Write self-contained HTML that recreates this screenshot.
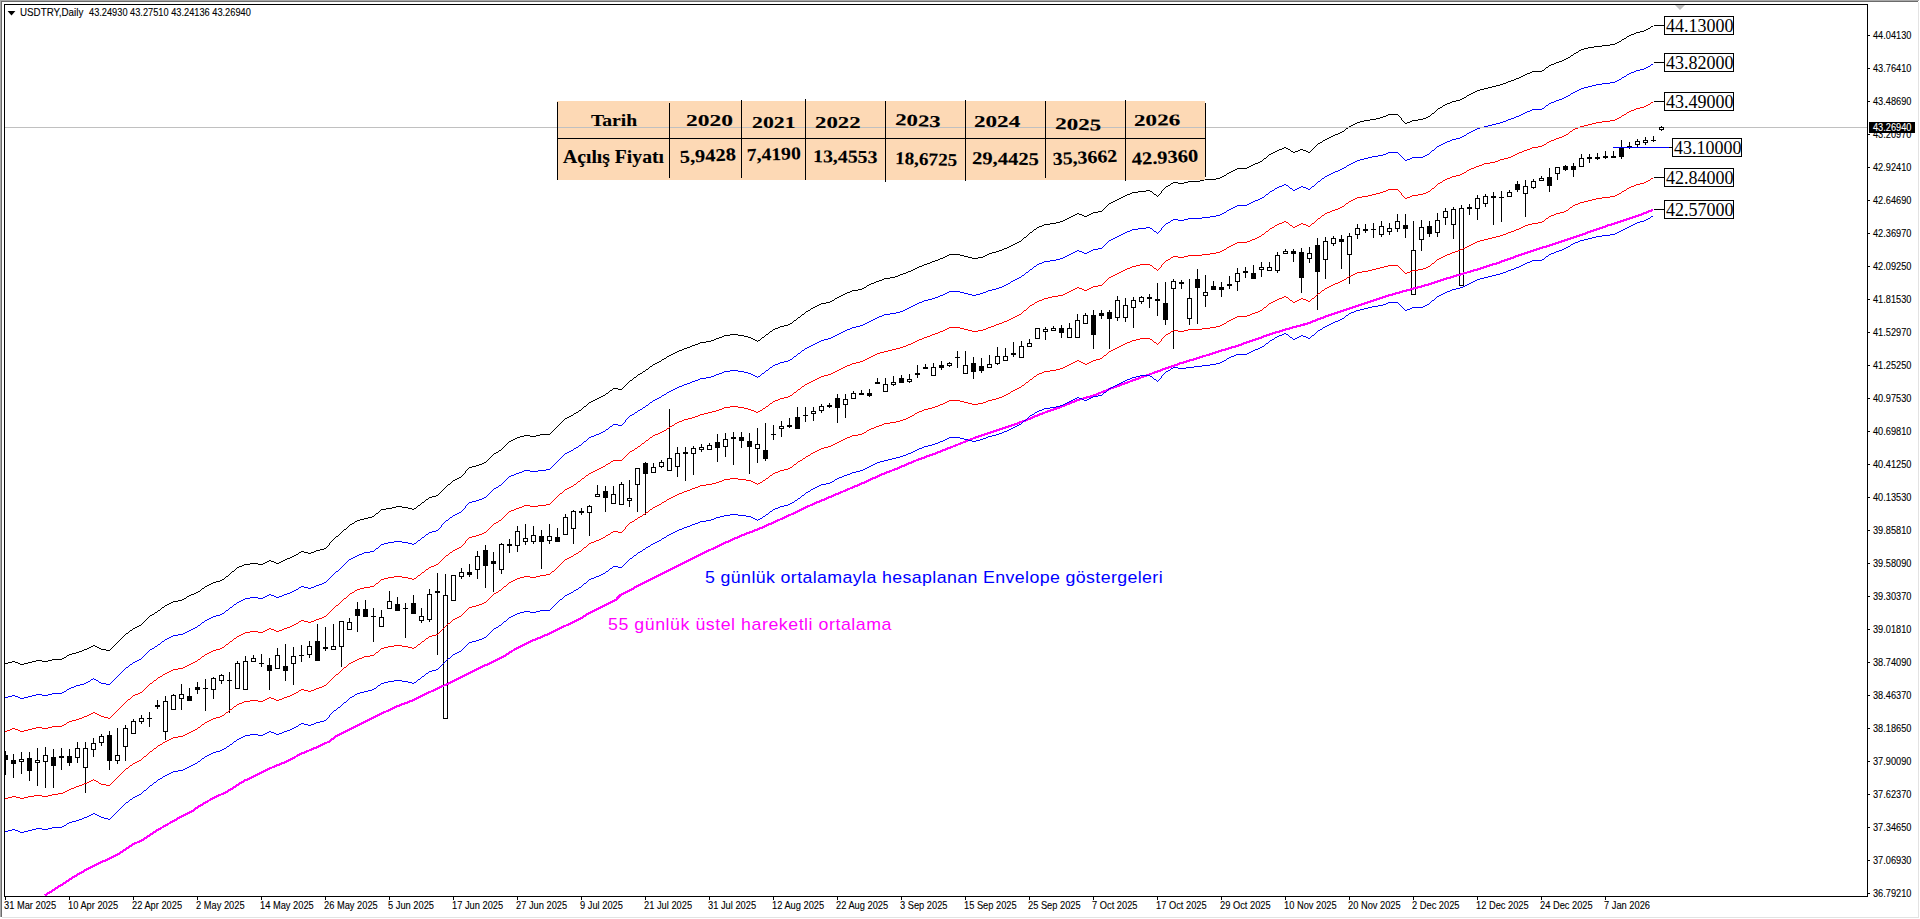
<!DOCTYPE html>
<html lang="tr">
<head>
<meta charset="utf-8">
<title>USDTRY,Daily</title>
<style>
html,body{margin:0;padding:0;background:#fff;}
body{width:1920px;height:919px;position:relative;overflow:hidden;font-family:"Liberation Sans",sans-serif;color:#000;}
svg{position:absolute;left:0;top:0;}
.t{position:absolute;white-space:pre;line-height:normal;}
.ax,.ttl,.cur{-webkit-text-stroke:0.1px currentColor;}
.ax{font-size:10.4px;transform-origin:0 0;transform:scaleX(0.8859);}
.axd{transform:scaleX(0.8944);}
.ttl{font-size:10.4px;transform-origin:0 0;transform:scaleX(1.0000);}
.ann{font-size:16.6px;transform-origin:0 0;transform:scaleX(1.07);}
.tb{font-family:"Liberation Serif",serif;font-weight:bold;-webkit-text-stroke:0.1px #000;}
.pb{position:absolute;box-sizing:border-box;width:70px;height:19px;border:1px solid #000;background:#fff;
 font-family:"Liberation Serif",serif;font-size:18px;line-height:19px;padding-left:1px;white-space:pre;letter-spacing:0.000px;}
.cur{position:absolute;left:1869px;top:122px;width:46px;height:11px;background:#000;color:#fff;font-size:10.4px;line-height:12px;padding-left:4px;box-sizing:border-box;white-space:pre;}
.cur span{display:inline-block;transform-origin:0 0;transform:scaleX(0.8859);}
#tbl{position:absolute;left:557px;top:101px;width:648px;height:79px;background:#fdd9b5;}
</style>
</head>
<body>
<!-- window frame -->
<svg width="1920" height="919" viewBox="0 0 1920 919" shape-rendering="crispEdges">
<rect x="0" y="0" width="1919" height="1" fill="#a9a9a9"/>
<rect x="1" y="1" width="1917" height="1" fill="#6b6b6b"/>
<rect x="0" y="0" width="1" height="917" fill="#a9a9a9"/>
<rect x="1" y="1" width="1" height="916" fill="#6b6b6b"/>
<rect x="1918" y="2" width="1" height="916" fill="#e3e3e3"/>
<rect x="2" y="917" width="1917" height="1" fill="#e3e3e3"/>
<polygon points="1675,5 1685,5 1680,10" fill="#c0c0c0" shape-rendering="auto"/>
</svg>
<!-- chart -->
<svg width="1920" height="919" viewBox="0 0 1920 919">
<defs><clipPath id="cp"><rect x="5" y="5" width="1862" height="891"/></clipPath></defs>
<g fill="#000" shape-rendering="crispEdges" clip-path="url(#cp)"><rect x="5" y="751" width="1" height="24"/><rect x="3" y="755" width="5" height="5"/><rect x="13" y="754" width="1" height="24"/><rect x="11" y="760" width="5" height="4"/><rect x="21" y="752" width="1" height="22"/><rect x="19" y="759" width="5" height="3"/><rect x="20" y="760" width="3" height="1" fill="#fff"/><rect x="29" y="752" width="1" height="29"/><rect x="27" y="758" width="5" height="13"/><rect x="37" y="748" width="1" height="38"/><rect x="35" y="760" width="5" height="3"/><rect x="36" y="761" width="3" height="1" fill="#fff"/><rect x="45" y="747" width="1" height="41"/><rect x="43" y="755" width="5" height="7"/><rect x="44" y="756" width="3" height="5" fill="#fff"/><rect x="53" y="749" width="1" height="39"/><rect x="51" y="757" width="5" height="9"/><rect x="61" y="748" width="1" height="22"/><rect x="59" y="756" width="5" height="2"/><rect x="69" y="749" width="1" height="17"/><rect x="67" y="756" width="5" height="7"/><rect x="77" y="742" width="1" height="21"/><rect x="75" y="748" width="5" height="10"/><rect x="76" y="749" width="3" height="8" fill="#fff"/><rect x="85" y="742" width="1" height="51"/><rect x="83" y="748" width="5" height="20"/><rect x="84" y="749" width="3" height="18" fill="#fff"/><rect x="93" y="738" width="1" height="19"/><rect x="91" y="743" width="5" height="7"/><rect x="92" y="744" width="3" height="5" fill="#fff"/><rect x="101" y="734" width="1" height="12"/><rect x="99" y="736" width="5" height="7"/><rect x="100" y="737" width="3" height="5" fill="#fff"/><rect x="109" y="731" width="1" height="39"/><rect x="107" y="735" width="5" height="26"/><rect x="117" y="728" width="1" height="36"/><rect x="115" y="755" width="5" height="6"/><rect x="116" y="756" width="3" height="4" fill="#fff"/><rect x="125" y="725" width="1" height="36"/><rect x="123" y="728" width="5" height="19"/><rect x="124" y="729" width="3" height="17" fill="#fff"/><rect x="133" y="719" width="1" height="15"/><rect x="131" y="721" width="5" height="13"/><rect x="132" y="722" width="3" height="11" fill="#fff"/><rect x="141" y="715" width="1" height="9"/><rect x="139" y="718" width="5" height="4"/><rect x="140" y="719" width="3" height="2" fill="#fff"/><rect x="149" y="712" width="1" height="15"/><rect x="147" y="718" width="5" height="1"/><rect x="157" y="700" width="1" height="9"/><rect x="155" y="705" width="5" height="2"/><rect x="165" y="696" width="1" height="44"/><rect x="163" y="701" width="5" height="31"/><rect x="164" y="702" width="3" height="29" fill="#fff"/><rect x="173" y="694" width="1" height="16"/><rect x="171" y="695" width="5" height="15"/><rect x="172" y="696" width="3" height="13" fill="#fff"/><rect x="181" y="684" width="1" height="26"/><rect x="179" y="694" width="5" height="5"/><rect x="180" y="695" width="3" height="3" fill="#fff"/><rect x="189" y="688" width="1" height="13"/><rect x="187" y="696" width="5" height="5"/><rect x="197" y="682" width="1" height="12"/><rect x="195" y="687" width="5" height="3"/><rect x="205" y="679" width="1" height="32"/><rect x="203" y="688" width="5" height="1"/><rect x="213" y="677" width="1" height="22"/><rect x="211" y="678" width="5" height="12"/><rect x="212" y="679" width="3" height="10" fill="#fff"/><rect x="221" y="674" width="1" height="10"/><rect x="219" y="675" width="5" height="6"/><rect x="220" y="676" width="3" height="4" fill="#fff"/><rect x="229" y="672" width="1" height="41"/><rect x="227" y="680" width="5" height="1"/><rect x="237" y="661" width="1" height="28"/><rect x="235" y="663" width="5" height="26"/><rect x="236" y="664" width="3" height="24" fill="#fff"/><rect x="245" y="656" width="1" height="34"/><rect x="243" y="661" width="5" height="29"/><rect x="244" y="662" width="3" height="27" fill="#fff"/><rect x="253" y="655" width="1" height="7"/><rect x="251" y="658" width="5" height="4"/><rect x="252" y="659" width="3" height="2" fill="#fff"/><rect x="261" y="654" width="1" height="13"/><rect x="259" y="663" width="5" height="1"/><rect x="269" y="658" width="1" height="32"/><rect x="267" y="665" width="5" height="6"/><rect x="277" y="648" width="1" height="21"/><rect x="275" y="655" width="5" height="14"/><rect x="276" y="656" width="3" height="12" fill="#fff"/><rect x="285" y="644" width="1" height="37"/><rect x="283" y="666" width="5" height="5"/><rect x="293" y="647" width="1" height="38"/><rect x="291" y="656" width="5" height="8"/><rect x="292" y="657" width="3" height="6" fill="#fff"/><rect x="301" y="645" width="1" height="17"/><rect x="299" y="655" width="5" height="1"/><rect x="309" y="641" width="1" height="17"/><rect x="307" y="646" width="5" height="9"/><rect x="308" y="647" width="3" height="7" fill="#fff"/><rect x="317" y="624" width="1" height="37"/><rect x="315" y="641" width="5" height="20"/><rect x="325" y="627" width="1" height="24"/><rect x="323" y="647" width="5" height="2"/><rect x="333" y="624" width="1" height="26"/><rect x="331" y="646" width="5" height="4"/><rect x="332" y="647" width="3" height="2" fill="#fff"/><rect x="341" y="621" width="1" height="46"/><rect x="339" y="621" width="5" height="26"/><rect x="340" y="622" width="3" height="24" fill="#fff"/><rect x="349" y="618" width="1" height="12"/><rect x="347" y="622" width="5" height="8"/><rect x="348" y="623" width="3" height="6" fill="#fff"/><rect x="357" y="602" width="1" height="30"/><rect x="355" y="609" width="5" height="7"/><rect x="365" y="600" width="1" height="17"/><rect x="363" y="609" width="5" height="8"/><rect x="373" y="608" width="1" height="34"/><rect x="371" y="616" width="5" height="1"/><rect x="381" y="610" width="1" height="17"/><rect x="379" y="617" width="5" height="10"/><rect x="380" y="618" width="3" height="8" fill="#fff"/><rect x="389" y="591" width="1" height="18"/><rect x="387" y="601" width="5" height="8"/><rect x="388" y="602" width="3" height="6" fill="#fff"/><rect x="397" y="597" width="1" height="14"/><rect x="395" y="604" width="5" height="7"/><rect x="405" y="603" width="1" height="35"/><rect x="403" y="608" width="5" height="1"/><rect x="413" y="595" width="1" height="19"/><rect x="411" y="603" width="5" height="11"/><rect x="421" y="608" width="1" height="15"/><rect x="419" y="616" width="5" height="5"/><rect x="420" y="617" width="3" height="3" fill="#fff"/><rect x="429" y="589" width="1" height="33"/><rect x="427" y="594" width="5" height="26"/><rect x="428" y="595" width="3" height="24" fill="#fff"/><rect x="437" y="573" width="1" height="82"/><rect x="435" y="591" width="5" height="2"/><rect x="445" y="574" width="1" height="145"/><rect x="443" y="595" width="5" height="124"/><rect x="444" y="596" width="3" height="122" fill="#fff"/><rect x="453" y="575" width="1" height="26"/><rect x="451" y="575" width="5" height="26"/><rect x="452" y="576" width="3" height="24" fill="#fff"/><rect x="461" y="568" width="1" height="11"/><rect x="459" y="572" width="5" height="5"/><rect x="460" y="573" width="3" height="3" fill="#fff"/><rect x="469" y="564" width="1" height="13"/><rect x="467" y="572" width="5" height="3"/><rect x="477" y="551" width="1" height="28"/><rect x="475" y="556" width="5" height="14"/><rect x="476" y="557" width="3" height="12" fill="#fff"/><rect x="485" y="545" width="1" height="43"/><rect x="483" y="550" width="5" height="16"/><rect x="493" y="552" width="1" height="40"/><rect x="491" y="561" width="5" height="3"/><rect x="501" y="543" width="1" height="31"/><rect x="499" y="544" width="5" height="26"/><rect x="500" y="545" width="3" height="24" fill="#fff"/><rect x="509" y="539" width="1" height="14"/><rect x="507" y="544" width="5" height="2"/><rect x="517" y="526" width="1" height="26"/><rect x="515" y="531" width="5" height="15"/><rect x="516" y="532" width="3" height="13" fill="#fff"/><rect x="525" y="524" width="1" height="21"/><rect x="523" y="538" width="5" height="4"/><rect x="524" y="539" width="3" height="2" fill="#fff"/><rect x="533" y="526" width="1" height="18"/><rect x="531" y="535" width="5" height="7"/><rect x="532" y="536" width="3" height="5" fill="#fff"/><rect x="541" y="530" width="1" height="39"/><rect x="539" y="536" width="5" height="6"/><rect x="549" y="524" width="1" height="20"/><rect x="547" y="536" width="5" height="5"/><rect x="548" y="537" width="3" height="3" fill="#fff"/><rect x="557" y="528" width="1" height="14"/><rect x="555" y="537" width="5" height="5"/><rect x="565" y="514" width="1" height="21"/><rect x="563" y="517" width="5" height="18"/><rect x="564" y="518" width="3" height="16" fill="#fff"/><rect x="573" y="510" width="1" height="34"/><rect x="571" y="511" width="5" height="18"/><rect x="572" y="512" width="3" height="16" fill="#fff"/><rect x="581" y="508" width="1" height="7"/><rect x="579" y="511" width="5" height="2"/><rect x="589" y="505" width="1" height="31"/><rect x="587" y="506" width="5" height="7"/><rect x="588" y="507" width="3" height="5" fill="#fff"/><rect x="597" y="485" width="1" height="12"/><rect x="595" y="494" width="5" height="3"/><rect x="596" y="495" width="3" height="1" fill="#fff"/><rect x="605" y="486" width="1" height="26"/><rect x="603" y="491" width="5" height="7"/><rect x="613" y="486" width="1" height="18"/><rect x="611" y="494" width="5" height="10"/><rect x="612" y="495" width="3" height="8" fill="#fff"/><rect x="621" y="482" width="1" height="23"/><rect x="619" y="484" width="5" height="21"/><rect x="620" y="485" width="3" height="19" fill="#fff"/><rect x="629" y="480" width="1" height="27"/><rect x="627" y="498" width="5" height="3"/><rect x="628" y="499" width="3" height="1" fill="#fff"/><rect x="637" y="468" width="1" height="44"/><rect x="635" y="468" width="5" height="17"/><rect x="636" y="469" width="3" height="15" fill="#fff"/><rect x="645" y="462" width="1" height="53"/><rect x="643" y="463" width="5" height="11"/><rect x="653" y="463" width="1" height="10"/><rect x="651" y="467" width="5" height="6"/><rect x="652" y="468" width="3" height="4" fill="#fff"/><rect x="661" y="460" width="1" height="8"/><rect x="659" y="462" width="5" height="5"/><rect x="660" y="463" width="3" height="3" fill="#fff"/><rect x="669" y="409" width="1" height="62"/><rect x="667" y="458" width="5" height="13"/><rect x="668" y="459" width="3" height="11" fill="#fff"/><rect x="677" y="447" width="1" height="30"/><rect x="675" y="453" width="5" height="14"/><rect x="676" y="454" width="3" height="12" fill="#fff"/><rect x="685" y="447" width="1" height="34"/><rect x="683" y="452" width="5" height="2"/><rect x="693" y="446" width="1" height="29"/><rect x="691" y="448" width="5" height="6"/><rect x="692" y="449" width="3" height="4" fill="#fff"/><rect x="701" y="444" width="1" height="8"/><rect x="699" y="447" width="5" height="3"/><rect x="700" y="448" width="3" height="1" fill="#fff"/><rect x="709" y="443" width="1" height="7"/><rect x="707" y="445" width="5" height="5"/><rect x="708" y="446" width="3" height="3" fill="#fff"/><rect x="717" y="434" width="1" height="28"/><rect x="715" y="442" width="5" height="6"/><rect x="725" y="433" width="1" height="24"/><rect x="723" y="439" width="5" height="8"/><rect x="724" y="440" width="3" height="6" fill="#fff"/><rect x="733" y="432" width="1" height="33"/><rect x="731" y="437" width="5" height="2"/><rect x="741" y="432" width="1" height="16"/><rect x="739" y="437" width="5" height="4"/><rect x="749" y="433" width="1" height="41"/><rect x="747" y="441" width="5" height="6"/><rect x="757" y="428" width="1" height="35"/><rect x="755" y="444" width="5" height="5"/><rect x="756" y="445" width="3" height="3" fill="#fff"/><rect x="765" y="423" width="1" height="38"/><rect x="763" y="450" width="5" height="9"/><rect x="773" y="425" width="1" height="15"/><rect x="771" y="434" width="5" height="1"/><rect x="781" y="421" width="1" height="16"/><rect x="779" y="426" width="5" height="3"/><rect x="780" y="427" width="3" height="1" fill="#fff"/><rect x="789" y="418" width="1" height="10"/><rect x="787" y="425" width="5" height="2"/><rect x="797" y="407" width="1" height="22"/><rect x="795" y="417" width="5" height="12"/><rect x="805" y="407" width="1" height="15"/><rect x="803" y="415" width="5" height="1"/><rect x="813" y="407" width="1" height="14"/><rect x="811" y="411" width="5" height="3"/><rect x="812" y="412" width="3" height="1" fill="#fff"/><rect x="821" y="404" width="1" height="9"/><rect x="819" y="406" width="5" height="5"/><rect x="820" y="407" width="3" height="3" fill="#fff"/><rect x="829" y="403" width="1" height="5"/><rect x="827" y="405" width="5" height="2"/><rect x="837" y="394" width="1" height="29"/><rect x="835" y="398" width="5" height="10"/><rect x="845" y="394" width="1" height="24"/><rect x="843" y="399" width="5" height="6"/><rect x="844" y="400" width="3" height="4" fill="#fff"/><rect x="853" y="391" width="1" height="8"/><rect x="851" y="393" width="5" height="6"/><rect x="852" y="394" width="3" height="4" fill="#fff"/><rect x="861" y="390" width="1" height="5"/><rect x="859" y="393" width="5" height="2"/><rect x="869" y="389" width="1" height="8"/><rect x="867" y="393" width="5" height="3"/><rect x="877" y="378" width="1" height="6"/><rect x="875" y="382" width="5" height="2"/><rect x="885" y="378" width="1" height="14"/><rect x="883" y="384" width="5" height="8"/><rect x="884" y="385" width="3" height="6" fill="#fff"/><rect x="893" y="376" width="1" height="10"/><rect x="891" y="382" width="5" height="3"/><rect x="892" y="383" width="3" height="1" fill="#fff"/><rect x="901" y="375" width="1" height="8"/><rect x="899" y="378" width="5" height="5"/><rect x="909" y="374" width="1" height="9"/><rect x="907" y="379" width="5" height="3"/><rect x="908" y="380" width="3" height="1" fill="#fff"/><rect x="917" y="365" width="1" height="13"/><rect x="915" y="373" width="5" height="2"/><rect x="925" y="364" width="1" height="5"/><rect x="923" y="367" width="5" height="2"/><rect x="933" y="363" width="1" height="13"/><rect x="931" y="367" width="5" height="9"/><rect x="932" y="368" width="3" height="7" fill="#fff"/><rect x="941" y="361" width="1" height="9"/><rect x="939" y="365" width="5" height="3"/><rect x="949" y="362" width="1" height="5"/><rect x="947" y="363" width="5" height="3"/><rect x="948" y="364" width="3" height="1" fill="#fff"/><rect x="957" y="351" width="1" height="17"/><rect x="955" y="357" width="5" height="1"/><rect x="965" y="351" width="1" height="23"/><rect x="963" y="365" width="5" height="9"/><rect x="964" y="366" width="3" height="7" fill="#fff"/><rect x="973" y="357" width="1" height="22"/><rect x="971" y="363" width="5" height="9"/><rect x="981" y="358" width="1" height="15"/><rect x="979" y="366" width="5" height="5"/><rect x="989" y="355" width="1" height="13"/><rect x="987" y="364" width="5" height="4"/><rect x="988" y="365" width="3" height="2" fill="#fff"/><rect x="997" y="347" width="1" height="18"/><rect x="995" y="356" width="5" height="8"/><rect x="996" y="357" width="3" height="6" fill="#fff"/><rect x="1005" y="348" width="1" height="13"/><rect x="1003" y="356" width="5" height="5"/><rect x="1004" y="357" width="3" height="3" fill="#fff"/><rect x="1013" y="342" width="1" height="15"/><rect x="1011" y="353" width="5" height="2"/><rect x="1021" y="341" width="1" height="17"/><rect x="1019" y="346" width="5" height="12"/><rect x="1020" y="347" width="3" height="10" fill="#fff"/><rect x="1029" y="339" width="1" height="8"/><rect x="1027" y="343" width="5" height="4"/><rect x="1028" y="344" width="3" height="2" fill="#fff"/><rect x="1037" y="328" width="1" height="11"/><rect x="1035" y="328" width="5" height="11"/><rect x="1036" y="329" width="3" height="9" fill="#fff"/><rect x="1045" y="327" width="1" height="13"/><rect x="1043" y="329" width="5" height="3"/><rect x="1044" y="330" width="3" height="1" fill="#fff"/><rect x="1053" y="326" width="1" height="5"/><rect x="1051" y="328" width="5" height="3"/><rect x="1052" y="329" width="3" height="1" fill="#fff"/><rect x="1061" y="325" width="1" height="13"/><rect x="1059" y="328" width="5" height="5"/><rect x="1069" y="323" width="1" height="15"/><rect x="1067" y="328" width="5" height="10"/><rect x="1068" y="329" width="3" height="8" fill="#fff"/><rect x="1077" y="314" width="1" height="24"/><rect x="1075" y="320" width="5" height="18"/><rect x="1076" y="321" width="3" height="16" fill="#fff"/><rect x="1085" y="313" width="1" height="11"/><rect x="1083" y="315" width="5" height="9"/><rect x="1084" y="316" width="3" height="7" fill="#fff"/><rect x="1093" y="310" width="1" height="39"/><rect x="1091" y="315" width="5" height="20"/><rect x="1101" y="310" width="1" height="9"/><rect x="1099" y="313" width="5" height="3"/><rect x="1109" y="310" width="1" height="39"/><rect x="1107" y="312" width="5" height="7"/><rect x="1117" y="296" width="1" height="25"/><rect x="1115" y="300" width="5" height="18"/><rect x="1116" y="301" width="3" height="16" fill="#fff"/><rect x="1125" y="298" width="1" height="24"/><rect x="1123" y="305" width="5" height="13"/><rect x="1124" y="306" width="3" height="11" fill="#fff"/><rect x="1133" y="297" width="1" height="31"/><rect x="1131" y="300" width="5" height="8"/><rect x="1132" y="301" width="3" height="6" fill="#fff"/><rect x="1141" y="296" width="1" height="8"/><rect x="1139" y="297" width="5" height="5"/><rect x="1140" y="298" width="3" height="3" fill="#fff"/><rect x="1149" y="294" width="1" height="14"/><rect x="1147" y="297" width="5" height="2"/><rect x="1157" y="283" width="1" height="33"/><rect x="1155" y="299" width="5" height="2"/><rect x="1165" y="282" width="1" height="43"/><rect x="1163" y="303" width="5" height="17"/><rect x="1173" y="279" width="1" height="70"/><rect x="1171" y="281" width="5" height="8"/><rect x="1172" y="282" width="3" height="6" fill="#fff"/><rect x="1181" y="280" width="1" height="9"/><rect x="1179" y="282" width="5" height="2"/><rect x="1189" y="279" width="1" height="46"/><rect x="1187" y="298" width="5" height="21"/><rect x="1188" y="299" width="3" height="19" fill="#fff"/><rect x="1197" y="269" width="1" height="55"/><rect x="1195" y="279" width="5" height="9"/><rect x="1205" y="275" width="1" height="32"/><rect x="1203" y="292" width="5" height="4"/><rect x="1204" y="293" width="3" height="2" fill="#fff"/><rect x="1213" y="281" width="1" height="9"/><rect x="1211" y="286" width="5" height="4"/><rect x="1221" y="282" width="1" height="15"/><rect x="1219" y="287" width="5" height="3"/><rect x="1229" y="276" width="1" height="13"/><rect x="1227" y="284" width="5" height="2"/><rect x="1237" y="268" width="1" height="23"/><rect x="1235" y="273" width="5" height="9"/><rect x="1236" y="274" width="3" height="7" fill="#fff"/><rect x="1245" y="267" width="1" height="11"/><rect x="1243" y="271" width="5" height="2"/><rect x="1253" y="265" width="1" height="14"/><rect x="1251" y="273" width="5" height="6"/><rect x="1261" y="262" width="1" height="15"/><rect x="1259" y="267" width="5" height="3"/><rect x="1260" y="268" width="3" height="1" fill="#fff"/><rect x="1269" y="262" width="1" height="9"/><rect x="1267" y="267" width="5" height="4"/><rect x="1268" y="268" width="3" height="2" fill="#fff"/><rect x="1277" y="252" width="1" height="21"/><rect x="1275" y="255" width="5" height="16"/><rect x="1276" y="256" width="3" height="14" fill="#fff"/><rect x="1285" y="249" width="1" height="5"/><rect x="1283" y="251" width="5" height="3"/><rect x="1284" y="252" width="3" height="1" fill="#fff"/><rect x="1293" y="249" width="1" height="13"/><rect x="1291" y="251" width="5" height="3"/><rect x="1301" y="248" width="1" height="45"/><rect x="1299" y="252" width="5" height="26"/><rect x="1309" y="247" width="1" height="16"/><rect x="1307" y="253" width="5" height="6"/><rect x="1308" y="254" width="3" height="4" fill="#fff"/><rect x="1317" y="238" width="1" height="72"/><rect x="1315" y="245" width="5" height="27"/><rect x="1325" y="237" width="1" height="42"/><rect x="1323" y="241" width="5" height="19"/><rect x="1324" y="242" width="3" height="17" fill="#fff"/><rect x="1333" y="236" width="1" height="10"/><rect x="1331" y="238" width="5" height="6"/><rect x="1332" y="239" width="3" height="4" fill="#fff"/><rect x="1341" y="235" width="1" height="34"/><rect x="1339" y="239" width="5" height="3"/><rect x="1349" y="233" width="1" height="51"/><rect x="1347" y="236" width="5" height="19"/><rect x="1348" y="237" width="3" height="17" fill="#fff"/><rect x="1357" y="224" width="1" height="15"/><rect x="1355" y="228" width="5" height="7"/><rect x="1356" y="229" width="3" height="5" fill="#fff"/><rect x="1365" y="224" width="1" height="9"/><rect x="1363" y="229" width="5" height="2"/><rect x="1373" y="223" width="1" height="15"/><rect x="1371" y="229" width="5" height="1"/><rect x="1381" y="221" width="1" height="16"/><rect x="1379" y="226" width="5" height="9"/><rect x="1380" y="227" width="3" height="7" fill="#fff"/><rect x="1389" y="223" width="1" height="12"/><rect x="1387" y="228" width="5" height="4"/><rect x="1388" y="229" width="3" height="2" fill="#fff"/><rect x="1397" y="214" width="1" height="18"/><rect x="1395" y="221" width="5" height="8"/><rect x="1396" y="222" width="3" height="6" fill="#fff"/><rect x="1405" y="214" width="1" height="24"/><rect x="1403" y="225" width="5" height="4"/><rect x="1413" y="221" width="1" height="74"/><rect x="1411" y="250" width="5" height="45"/><rect x="1412" y="251" width="3" height="43" fill="#fff"/><rect x="1421" y="220" width="1" height="31"/><rect x="1419" y="227" width="5" height="13"/><rect x="1420" y="228" width="3" height="11" fill="#fff"/><rect x="1429" y="221" width="1" height="16"/><rect x="1427" y="226" width="5" height="8"/><rect x="1437" y="213" width="1" height="24"/><rect x="1435" y="220" width="5" height="13"/><rect x="1436" y="221" width="3" height="11" fill="#fff"/><rect x="1445" y="208" width="1" height="17"/><rect x="1443" y="211" width="5" height="7"/><rect x="1444" y="212" width="3" height="5" fill="#fff"/><rect x="1453" y="207" width="1" height="32"/><rect x="1451" y="209" width="5" height="16"/><rect x="1452" y="210" width="3" height="14" fill="#fff"/><rect x="1461" y="205" width="1" height="81"/><rect x="1459" y="208" width="5" height="78"/><rect x="1460" y="209" width="3" height="76" fill="#fff"/><rect x="1469" y="204" width="1" height="11"/><rect x="1467" y="207" width="5" height="2"/><rect x="1477" y="195" width="1" height="25"/><rect x="1475" y="198" width="5" height="11"/><rect x="1476" y="199" width="3" height="9" fill="#fff"/><rect x="1485" y="194" width="1" height="13"/><rect x="1483" y="196" width="5" height="8"/><rect x="1484" y="197" width="3" height="6" fill="#fff"/><rect x="1493" y="192" width="1" height="33"/><rect x="1491" y="196" width="5" height="2"/><rect x="1501" y="191" width="1" height="31"/><rect x="1499" y="197" width="5" height="1"/><rect x="1509" y="190" width="1" height="7"/><rect x="1507" y="192" width="5" height="5"/><rect x="1508" y="193" width="3" height="3" fill="#fff"/><rect x="1517" y="181" width="1" height="11"/><rect x="1515" y="184" width="5" height="6"/><rect x="1525" y="180" width="1" height="37"/><rect x="1523" y="186" width="5" height="8"/><rect x="1524" y="187" width="3" height="6" fill="#fff"/><rect x="1533" y="179" width="1" height="10"/><rect x="1531" y="181" width="5" height="7"/><rect x="1532" y="182" width="3" height="5" fill="#fff"/><rect x="1541" y="176" width="1" height="5"/><rect x="1539" y="178" width="5" height="3"/><rect x="1540" y="179" width="3" height="1" fill="#fff"/><rect x="1549" y="168" width="1" height="24"/><rect x="1547" y="177" width="5" height="9"/><rect x="1557" y="167" width="1" height="13"/><rect x="1555" y="167" width="5" height="7"/><rect x="1556" y="168" width="3" height="5" fill="#fff"/><rect x="1565" y="165" width="1" height="6"/><rect x="1563" y="166" width="5" height="4"/><rect x="1573" y="163" width="1" height="14"/><rect x="1571" y="166" width="5" height="4"/><rect x="1581" y="154" width="1" height="13"/><rect x="1579" y="158" width="5" height="9"/><rect x="1580" y="159" width="3" height="7" fill="#fff"/><rect x="1589" y="154" width="1" height="9"/><rect x="1587" y="157" width="5" height="2"/><rect x="1597" y="153" width="1" height="7"/><rect x="1595" y="157" width="5" height="2"/><rect x="1605" y="151" width="1" height="8"/><rect x="1603" y="156" width="5" height="2"/><rect x="1613" y="151" width="1" height="7"/><rect x="1611" y="156" width="5" height="2"/><rect x="1621" y="140" width="1" height="19"/><rect x="1619" y="147" width="5" height="10"/><rect x="1629" y="142" width="1" height="7"/><rect x="1627" y="146" width="5" height="1"/><rect x="1637" y="139" width="1" height="8"/><rect x="1635" y="141" width="5" height="4"/><rect x="1636" y="142" width="3" height="2" fill="#fff"/><rect x="1645" y="137" width="1" height="8"/><rect x="1643" y="140" width="5" height="3"/><rect x="1644" y="141" width="3" height="1" fill="#fff"/><rect x="1653" y="136" width="1" height="6"/><rect x="1651" y="140" width="5" height="1"/><rect x="1661" y="126" width="1" height="5"/><rect x="1659" y="127" width="5" height="3"/><rect x="1660" y="128" width="3" height="1" fill="#fff"/></g>
<g clip-path="url(#cp)"><polyline points="44.8,895.5 64.8,882.8 77.0,874.9 92.7,866.2 106.6,859.8 118.8,854.0 132.7,844.5 143.2,839.6 155.3,831.4 165.8,825.3 179.7,817.5 191.9,811.4 197.1,807.5 212.8,798.3 226.7,791.9 244.1,780.9 258.1,774.3 272.0,767.5 285.9,761.8 301.6,753.6 315.5,747.8 329.4,741.4 337.4,735.4 354.8,726.7 372.2,718.0 389.6,709.8 398.3,705.8 414.0,700.0 424.5,694.5 445.3,684.9 459.3,677.9 476.7,669.2 494.1,661.4 504.5,656.2 511.5,651.3 528.9,642.2 546.3,634.9 563.7,626.6 581.1,618.4 588.1,613.5 598.6,608.3 616.0,599.6 620.0,595.5 637.4,586.2 654.8,577.5 672.2,568.8 689.6,560.1 707.0,551.4 724.5,543.1 741.9,535.4 759.3,528.8 776.7,521.0 794.1,513.1 811.5,504.8 828.9,497.5 846.3,490.1 863.7,482.7 881.1,474.8 898.6,467.9 916.0,460.5 937.4,452.7 954.8,445.8 972.2,438.8 989.6,432.7 1007.0,427.1 1024.5,420.9 1041.9,413.6 1059.3,407.5 1076.7,400.5 1094.1,395.3 1111.5,388.3 1128.9,381.9 1146.3,375.6 1163.7,369.2 1181.1,363.1 1198.6,357.9 1216.0,352.3 1237.4,345.8 1254.8,339.7 1272.2,333.6 1289.6,328.4 1307.0,323.7 1324.5,317.0 1341.9,311.0 1359.3,305.2 1376.7,299.3 1394.1,293.9 1411.5,289.2 1428.9,284.3 1446.3,278.7 1463.7,273.5 1481.1,268.3 1498.6,262.7 1516.0,256.5 1533.4,250.5 1546.4,246.4 1576.9,236.4 1607.4,225.7 1637.8,215.9 1653.0,209.9" fill="none" stroke="#f0f" stroke-width="2.2" stroke-linejoin="round" shape-rendering="crispEdges"/></g>
<g fill="none" stroke-width="1" shape-rendering="crispEdges">
<path stroke="#000" d="M5 663.5h3m0-1h4m0-1h3m0 1h3m0 1h2m0 1h4m0-1h4m0-1h4m0-1h4m0-1h6m0 1h6m0-1h4m0-1h10m0-1h2m0-1h2m0-1h1m0-1h2m0-1h3m0-1h4m0-1h3m0-1h3m0-1h2m0-1h3m0-1h2m0-1h2m0-1h2m0-1h2m0 1h2m0 1h2m0 1h2m0 1h5m0 1h4m0-1h1m0-1h1m0-1h1m0-1h1m0-1h1m0-1h1m0-1h1m0-1h1m0-1h1m0-1h1m0-1h1m0-1h1m0-1h1m0-1h1m0-1h1m0-1h1m0-1h2m0-1h1m0-1h1m0-1h2m0-1h1m0-1h2m0-1h2m0-1h2m0-1h2m0-1h1m0-1h1m0-1h1m0-1h1m0-1h1m0-1h1m0-1h1m0-1h1m0-1h1m0-1h2m0-1h2m0-1h1m0-1h2m0-1h1m0-1h2m0-1h1m0-1h1m0-1h2m0-1h1m0-1h2m0-1h2m0-1h2m0-1h2m0-1h5m0-1h4m0-1h2m0-1h2m0-1h1m0-1h2m0-1h2m0-1h3m0-1h2m0-1h2m0-1h2m0-1h1m0-1h1m0-1h2m0-1h1m0-1h2m0-1h2m0-1h2m0-1h2m0-1h3m0-1h4m0-1h2m0-1h2m0-1h1m0-1h1m0-1h2m0-1h1m0-1h1m0-1h1m0-1h1m0-1h2m0-1h1m0-1h1m0-1h1m0-1h2m0-1h3m0-1h2m0-1h6m0-1h8m0 1h5m0-1h2m0-1h2m0-1h2m0-1h2m0 1h3m0 1h2m0 1h3m0-1h2m0-1h2m0-1h2m0-1h2m0-1h3m0-1h2m0-1h2m0-1h2m0-1h2m0-1h1m0-1h2m0-1h3m0 1h4m0 1h3m0-1h3m0-1h2m0-1h4m0-1h4m0-1h2m0-1h1m0-1h1m0-1h1m0-2h1m-1 1h1m0-2h1m0-1h1m0-1h1m0-1h1m0-1h1m0-1h1m0-1h2m0-1h1m0-1h1m0-1h1m0-1h1m0-1h1m0-1h1m0-1h2m0-1h1m0-1h1m0-1h1m0-1h1m0-1h2m0-1h2m0-1h1m0-1h2m0-1h3m0-1h4m0-1h4m0-1h4m0-1h2m0-1h1m0-1h1m0-1h2m0-1h1m0-1h1m0-1h1m0-1h5m0-1h6m0-1h4m0-1h6m0 1h6m0 1h4m0 1h2m0-1h2m0-1h1m0-1h1m0-1h2m0-1h1m0-1h1m0-1h2m0-1h1m0-1h1m0-1h2m0-1h1m0-1h3m0-1h4m0-1h2m0-1h1m0-1h1m0-1h1m0-1h1m0-1h1m0-1h1m0-1h1m0-1h1m0-1h1m0-1h1m0-1h2m0-1h1m0-1h1m0-1h1m0-1h2m0-1h2m0-1h2m0-1h2m0-1h1m0-1h1m0-1h1m0-1h1m0-2h1m-1 1h1m0-2h1m0-1h1m0-1h1m0-1h3m0-1h4m0-1h3m0-1h3m0-1h2m0-1h2m0-1h1m0-1h1m0-1h1m0-1h1m0-1h1m0-1h1m0-1h1m0-1h1m0-1h2m0-1h2m0-1h1m0-1h2m0-1h1m0-1h1m0-1h1m0-1h1m0-1h1m0-1h1m0-1h1m0-1h1m0-1h2m0-1h2m0-1h2m0-1h2m0-1h3m0-1h4m0-1h6m0 1h6m0-1h4m0-1h10m0-1h1m0-1h1m0-1h1m0-1h1m0-1h1m0-1h1m0-1h1m0-1h1m0-1h1m0-1h1m0-1h1m0-1h1m0-1h1m0-1h1m0-1h1m0-1h2m0-1h2m0-1h2m0-1h2m0-1h1m0-1h2m0-1h2m0-1h1m0-1h2m0-1h1m0-1h1m0-1h1m0-1h2m0-1h1m0-1h1m0-1h1m0-1h2m0-1h2m0-1h2m0-1h2m0-1h2m0-1h2m0-1h2m0-1h2m0-1h1m0-1h2m0-1h1m0-1h1m0-1h2m0-1h1m0-1h5m0 1h4m0-1h1m0-1h1m0-1h1m0-1h1m0-1h1m0-1h1m0-1h1m0-1h1m0-1h2m0-1h1m0-1h1m0-1h2m0-1h1m0-1h1m0-1h2m0-1h2m0-1h1m0-1h2m0-1h1m0-1h2m0-1h1m0-1h1m0-1h2m0-1h1m0-1h2m0-1h2m0-1h2m0-1h2m0-1h1m0-1h2m0-1h2m0-1h1m0-1h2m0-1h2m0-1h2m0-1h2m0-1h2m0-1h2m0-1h3m0-1h2m0-1h3m0-1h3m0-1h2m0-1h3m0-1h3m0-1h2m0-1h6m0-1h5m0-1h3m0-1h2m0-1h3m0-1h3m0-1h2m0-1h6m0-1h8m0 1h6m0 1h4m0 1h3m0 1h2m0 1h2m0 1h2m0 1h1m0-1h2m0-1h1m0-1h1m0-1h2m0-1h1m0-1h1m0-1h2m0-1h1m0-1h1m0-1h2m0-1h1m0-1h2m0-1h3m0-1h2m0-1h4m0-1h4m0-1h2m0-1h2m0-1h1m0-1h1m0-1h2m0-1h1m0-1h1m0-1h2m0-1h1m0-1h1m0-1h2m0-1h1m0-1h1m0-1h2m0-1h2m0-1h1m0-1h2m0-1h2m0-1h2m0-1h2m0-1h2m0-1h5m0-1h4m0-1h2m0-1h2m0-1h1m0-1h2m0-1h2m0-1h2m0-1h2m0-1h2m0-1h2m0-1h3m0-1h2m0-1h6m0-1h4m0-1h2m0-1h2m0-1h1m0-1h2m0-1h2m0-1h3m0-1h2m0-1h3m0-1h3m0-1h2m0-1h6m0-1h5m0-1h3m0-1h2m0-1h3m0-1h3m0-1h2m0-1h3m0-1h2m0-1h2m0-1h2m0-1h2m0-1h3m0-1h2m0-1h3m0-1h3m0-1h2m0-1h3m0-1h3m0-1h2m0-1h3m0-1h2m0-1h2m0-1h2m0-1h11m0 1h4m0 1h4m0 1h4m0 1h6m0-1h5m0-1h2m0-1h2m0-1h2m0-1h3m0-1h4m0-1h3m0-1h3m0-1h2m0-1h3m0-1h2m0-1h2m0-1h2m0-1h2m0-1h2m0-1h2m0-1h2m0-1h1m0-1h1m0-1h1m0-1h2m0-1h1m0-1h1m0-1h1m0-1h1m0-1h2m0-1h1m0-1h1m0-1h2m0-1h1m0-1h2m0-1h3m0-1h2m0-1h6m0-1h6m0-1h4m0-1h3m0-1h2m0-1h2m0-1h2m0-1h2m0-1h2m0-1h2m0-1h2m0-1h2m0 1h3m0 1h2m0 1h3m0-1h2m0-1h2m0-1h2m0-1h5m0-1h4m0-1h1m0-1h1m0-1h1m0-1h1m0-1h1m0-1h1m0-1h1m0-1h2m0-1h2m0-1h2m0-1h2m0-1h2m0-1h2m0-1h2m0-1h2m0-1h2m0-1h3m0-1h2m0-1h6m0-1h8m0-1h4m0 1h2m0 1h1m0 1h1m0 1h2m0 1h1m0 1h1m0-1h1m0-1h1m0-1h1m0-2h1m-1 1h1m0-2h1m0-1h1m0-1h1m0-1h1m0-1h2m0-1h2m0-1h1m0-1h2m0-1h5m0 1h6m0-1h4m0-1h12m0-1h4m0-1h12m0-1h4m0-1h2m0-1h2m0-1h2m0-1h1m0-1h2m0-1h2m0-1h2m0-1h2m0-1h2m0-1h10m0-1h2m0-1h2m0-1h2m0-1h2m0-1h3m0-1h2m0-1h2m0-1h1m0-1h1m0-1h2m0-1h1m0-1h1m0-1h1m0-1h2m0-1h2m0-1h2m0-1h2m0-1h2m0-1h3m0-1h2m0-1h2m0 1h2m0 1h2m0 1h1m0 1h2m0 1h2m0-1h3m0-1h2m0-1h3m0 1h3m0 1h2m0 1h2m0-1h1m0-1h1m0-1h1m0-1h1m0-1h1m0-1h1m0-1h1m0-1h1m0-1h2m0-1h2m0-1h1m0-1h2m0-1h2m0-1h2m0-1h2m0-1h2m0-1h2m0-1h3m0-1h2m0-1h2m0-1h2m0-1h1m0-1h1m0-1h2m0-1h1m0-1h2m0-1h2m0-1h2m0-1h2m0-1h3m0-1h4m0-1h6m0-1h6m0-1h4m0-1h3m0-1h3m0-1h2m0-1h10m0 1h1m0 1h1m0 1h1m0 1h1m-1 1h1m0 1h1m0 1h1m0 1h1m0 1h2m0-1h3m0-1h2m0-1h6m0-1h5m0-1h3m0-1h2m0-1h2m0-1h1m0-1h1m0-1h2m0-1h1m0-1h1m0-1h1m0-1h1m0-1h2m0-1h2m0-1h1m0-1h2m0-1h2m0-1h3m0-1h2m0-1h4m0-1h4m0-1h2m0-1h2m0-1h2m0-1h1m0-1h2m0-1h2m0-1h2m0-1h2m0-1h2m0-1h3m0-1h4m0-1h4m0-1h4m0-1h4m0-1h4m0-1h3m0-1h3m0-1h2m0-1h3m0-1h3m0-1h2m0-1h3m0-1h2m0-1h2m0-1h2m0-1h2m0-1h3m0-1h2m0-1h10m0-1h2m0-1h1m0-1h1m0-1h2m0-1h1m0-1h2m0-1h3m0-1h2m0-1h3m0-1h3m0-1h2m0-1h2m0-1h2m0-1h2m0-1h1m0-1h2m0-1h1m0-1h2m0-1h2m0-1h1m0-1h2m0-1h3m0-1h4m0-1h6m0-1h8m0-1h8m0-1h5m0-1h2m0-1h2m0-1h2m0-1h1m0-1h2m0-1h2m0-1h1m0-1h2m0-1h2m0-1h3m0-1h2m0-1h4m0-1h4m0-1h2m0-1h2m0-1h2m0-1h1m0-1h2"/>
<path stroke="#00f" d="M5 697.5h3m0-1h4m0-1h3m0 1h3m0 1h2m0 1h4m0-1h4m0-1h4m0-1h4m0-1h6m0 1h6m0-1h4m0-1h10m0-1h2m0-1h2m0-1h1m0-1h2m0-1h2m0-1h3m0-1h2m0-1h4m0-1h4m0-1h2m0-1h2m0-1h2m0-1h1m0-1h2m0-1h1m0 1h2m0 1h2m0 1h1m0 1h2m0 1h5m0 1h4m0-1h1m0-1h1m0-1h1m0-1h1m0-1h1m0-1h1m0-1h1m0-1h1m0-1h1m0-1h1m0-1h1m0-1h1m0-1h1m0-1h1m0-1h1m0-1h1m0-1h2m0-1h1m0-1h1m0-1h2m0-1h1m0-1h2m0-1h2m0-1h2m0-1h2m0-1h1m0-1h1m0-1h1m0-1h1m0-1h1m0-1h1m0-1h1m0-1h1m0-1h1m0-1h2m0-1h2m0-1h1m0-1h2m0-1h1m0-1h2m0-1h1m0-1h1m0-1h2m0-1h1m0-1h2m0-1h2m0-1h2m0-1h2m0-1h5m0-1h5m0-1h2m0-1h2m0-1h2m0-1h2m0-1h2m0-1h2m0-1h2m0-1h1m0-1h2m0-1h1m0-1h1m0-1h2m0-1h1m0-1h2m0-1h2m0-1h2m0-1h2m0-1h3m0-1h4m0-1h2m0-1h2m0-1h1m0-1h1m0-1h2m0-1h1m0-1h1m0-1h2m0-1h1m0-1h1m0-1h2m0-1h1m0-1h2m0-1h2m0-1h2m0-1h2m0-1h5m0-1h8m0 1h5m0-1h2m0-1h2m0-1h2m0-1h2m0 1h3m0 1h2m0 1h3m0-1h3m0-1h2m0-1h3m0-1h3m0-1h2m0-1h2m0-1h2m0-1h2m0-1h1m0-1h2m0-1h3m0 1h4m0 1h3m0-1h3m0-1h2m0-1h3m0-1h3m0-1h2m0-1h2m0-1h1m0-1h1m0-1h1m0-1h1m0-1h1m0-1h1m0-1h1m0-1h1m0-1h1m0-1h1m0-1h2m0-1h1m0-1h1m0-1h1m0-1h1m0-1h1m0-1h1m0-1h1m0-1h1m0-1h1m0-1h1m0-1h1m0-1h2m0-1h2m0-1h2m0-1h2m0-1h2m0-1h3m0-1h2m0-1h6m0-1h4m0-1h1m0-1h1m0-1h2m0-1h1m0-1h1m0-1h1m0-1h3m0-1h4m0-1h6m0-1h8m0 1h6m0 1h4m0 1h2m0-1h2m0-1h1m0-1h1m0-1h2m0-1h1m0-1h1m0-1h2m0-1h1m0-1h1m0-1h2m0-1h1m0-1h3m0-1h4m0-1h2m0-1h1m0-1h1m0-1h1m0-2h1m-1 1h1m0-2h1m0-1h1m0-1h1m0-1h1m0-1h2m0-1h1m0-1h1m0-1h2m0-1h1m0-1h2m0-1h2m0-1h2m0-1h2m0-1h1m0-1h1m0-1h1m0-1h1m0-2h1m-1 1h1m0-2h1m0-1h1m0-1h1m0-1h3m0-1h4m0-1h3m0-1h3m0-1h2m0-1h2m0-1h1m0-1h1m0-1h1m0-1h1m0-1h1m0-1h1m0-1h1m0-1h1m0-1h2m0-1h2m0-1h1m0-1h2m0-1h1m0-1h1m0-1h1m0-1h1m0-1h1m0-1h1m0-1h1m0-1h1m0-1h2m0-1h3m0-1h2m0-1h3m0-1h3m0-1h2m0-1h6m0 1h8m0-1h8m0-1h4m0-1h1m0-1h1m0-1h1m0-1h1m0-1h1m0-1h1m0-1h1m0-1h1m0-1h1m0-1h1m0-1h1m0-1h1m0-1h1m0-1h1m0-1h1m0-1h2m0-1h2m0-1h2m0-1h2m0-1h1m0-1h2m0-1h2m0-1h1m0-1h2m0-1h1m0-1h1m0-1h1m0-1h2m0-1h1m0-1h1m0-1h1m0-1h2m0-1h3m0-1h2m0-1h3m0-1h2m0-1h2m0-1h2m0-1h1m0-1h2m0-1h1m0-1h1m0-1h2m0-1h1m0-1h5m0 1h4m0-1h1m0-1h1m0-1h1m0-2h1m-1 1h1m0-2h1m0-1h1m0-1h1m0-1h1m0-1h2m0-1h2m0-1h1m0-1h2m0-1h1m0-1h2m0-1h2m0-1h1m0-1h2m0-1h1m0-1h2m0-1h1m0-1h1m0-1h2m0-1h1m0-1h2m0-1h2m0-1h2m0-1h2m0-1h1m0-1h2m0-1h2m0-1h1m0-1h2m0-1h2m0-1h2m0-1h2m0-1h2m0-1h2m0-1h3m0-1h2m0-1h3m0-1h3m0-1h2m0-1h3m0-1h3m0-1h2m0-1h6m0-1h5m0-1h3m0-1h2m0-1h3m0-1h3m0-1h2m0-1h6m0-1h8m0 1h6m0 1h4m0 1h3m0 1h2m0 1h2m0 1h2m0 1h1m0-1h2m0-1h1m0-1h1m0-1h2m0-1h1m0-1h1m0-1h2m0-1h1m0-1h1m0-1h2m0-1h1m0-1h2m0-1h3m0-1h2m0-1h4m0-1h4m0-1h2m0-1h2m0-1h1m0-1h1m0-1h2m0-1h1m0-1h1m0-1h2m0-1h1m0-1h1m0-1h2m0-1h1m0-1h2m0-1h2m0-1h2m0-1h2m0-1h2m0-1h2m0-1h2m0-1h2m0-1h3m0-1h4m0-1h3m0-1h2m0-1h2m0-1h2m0-1h2m0-1h2m0-1h2m0-1h2m0-1h2m0-1h3m0-1h2m0-1h4m0-1h4m0-1h3m0-1h2m0-1h2m0-1h2m0-1h2m0-1h2m0-1h2m0-1h2m0-1h2m0-1h3m0-1h2m0-1h6m0-1h6m0-1h4m0-1h3m0-1h2m0-1h2m0-1h2m0-1h2m0-1h2m0-1h2m0-1h2m0-1h2m0-1h3m0-1h2m0-1h4m0-1h4m0-1h3m0-1h3m0-1h2m0-1h3m0-1h2m0-1h2m0-1h2m0-1h11m0 1h4m0 1h4m0 1h4m0 1h4m0-1h4m0-1h3m0-1h3m0-1h2m0-1h4m0-1h4m0-1h3m0-1h3m0-1h2m0-1h2m0-1h2m0-1h2m0-1h1m0-1h2m0-1h2m0-1h2m0-1h2m0-1h2m0-1h1m0-1h2m0-1h1m0-1h1m0-1h2m0-1h1m0-1h1m0-1h2m0-1h1m0-1h1m0-1h2m0-1h1m0-1h2m0-1h3m0-1h2m0-1h6m0-1h6m0-1h4m0-1h3m0-1h2m0-1h2m0-1h2m0-1h2m0-1h2m0-1h2m0-1h2m0-1h2m0 1h3m0 1h2m0 1h3m0-1h2m0-1h2m0-1h2m0-1h5m0-1h4m0-1h1m0-1h1m0-1h1m0-1h1m0-1h1m0-1h1m0-1h1m0-1h2m0-1h2m0-1h2m0-1h2m0-1h2m0-1h2m0-1h2m0-1h2m0-1h2m0-1h3m0-1h2m0-1h6m0-1h8m0-1h4m0 1h2m0 1h1m0 1h1m0 1h2m0 1h1m0 1h1m0-1h1m0-1h1m0-1h1m0-2h1m-1 1h1m0-2h1m0-1h1m0-1h1m0-1h1m0-1h2m0-1h2m0-1h1m0-1h2m0-1h5m0 1h6m0-1h4m0-1h14m0-1h8m0-1h6m0-1h4m0-1h2m0-1h2m0-1h2m0-1h1m0-1h2m0-1h2m0-1h2m0-1h2m0-1h2m0-1h10m0-1h2m0-1h2m0-1h2m0-1h2m0-1h3m0-1h2m0-1h2m0-1h2m0-1h1m0-1h1m0-1h2m0-1h1m0-1h1m0-1h2m0-1h2m0-1h1m0-1h2m0-1h2m0-1h3m0-1h2m0-1h2m0 1h2m0 1h1m0 1h1m0 1h2m0 1h1m0 1h2m0-1h2m0-1h2m0-1h2m0-1h2m0 1h3m0 1h2m0 1h2m0-1h1m0-1h1m0-1h2m0-1h1m0-1h1m0-1h1m0-1h1m0-1h2m0-1h1m0-1h1m0-1h2m0-1h1m0-1h2m0-1h2m0-1h2m0-1h2m0-1h2m0-1h3m0-1h2m0-1h2m0-1h2m0-1h2m0-1h1m0-1h2m0-1h2m0-1h2m0-1h2m0-1h2m0-1h3m0-1h4m0-1h4m0-1h4m0-1h6m0-1h5m0-1h3m0-1h2m0-1h10m0 1h1m0 1h1m0 1h1m0 1h1m0 1h1m0 1h1m0 1h1m0 1h2m0-1h3m0-1h2m0-1h11m0-1h2m0-1h2m0-1h2m0-1h1m0-1h1m0-1h1m0-1h2m0-1h1m0-1h1m0-1h1m0-1h2m0-1h2m0-1h2m0-1h2m0-1h2m0-1h3m0-1h2m0-1h4m0-1h4m0-1h2m0-1h2m0-1h2m0-1h1m0-1h2m0-1h2m0-1h2m0-1h2m0-1h2m0-1h3m0-1h4m0-1h4m0-1h4m0-1h4m0-1h4m0-1h3m0-1h3m0-1h2m0-1h3m0-1h3m0-1h2m0-1h3m0-1h2m0-1h2m0-1h2m0-1h2m0-1h3m0-1h2m0-1h10m0-1h2m0-1h1m0-1h1m0-1h2m0-1h1m0-1h2m0-1h3m0-1h2m0-1h3m0-1h3m0-1h2m0-1h2m0-1h2m0-1h2m0-1h1m0-1h2m0-1h2m0-1h2m0-1h2m0-1h2m0-1h3m0-1h4m0-1h4m0-1h4m0-1h6m0-1h8m0-1h5m0-1h2m0-1h2m0-1h2m0-1h1m0-1h2m0-1h2m0-1h1m0-1h2m0-1h2m0-1h3m0-1h2m0-1h4m0-1h4m0-1h2m0-1h2m0-1h2m0-1h1m0-1h2"/>
<path stroke="#f00" d="M5 731.5h2m0-1h3m0-1h2m0-1h3m0 1h3m0 1h2m0 1h4m0-1h4m0-1h4m0-1h4m0-1h6m0 1h6m0-1h4m0-1h10m0-1h2m0-1h2m0-1h1m0-1h2m0-1h3m0-1h4m0-1h3m0-1h3m0-1h2m0-1h3m0-1h2m0-1h2m0-1h2m0-1h2m0 1h2m0 1h2m0 1h2m0 1h3m0 1h4m0 1h2m0-1h1m0-1h1m0-1h1m0-1h1m0-1h1m0-1h1m0-1h1m0-1h1m0-1h1m0-1h1m0-1h1m0-1h1m0-1h1m0-1h1m0-1h1m0-1h1m0-1h1m0-1h1m0-1h2m0-1h1m0-1h1m0-1h1m0-1h2m0-1h3m0-1h2m0-1h2m0-1h1m0-1h1m0-1h1m0-1h1m0-1h1m0-1h1m0-1h1m0-1h1m0-1h2m0-1h1m0-1h1m0-1h2m0-1h1m0-1h1m0-1h2m0-1h2m0-1h1m0-1h2m0-1h2m0-1h2m0-1h2m0-1h2m0-1h5m0-1h5m0-1h2m0-1h2m0-1h2m0-1h2m0-1h2m0-1h2m0-1h2m0-1h1m0-1h2m0-1h1m0-1h1m0-1h2m0-1h1m0-1h2m0-1h2m0-1h2m0-1h2m0-1h3m0-1h4m0-1h2m0-1h2m0-1h1m0-1h1m0-1h2m0-1h1m0-1h1m0-1h2m0-1h1m0-1h1m0-1h2m0-1h1m0-1h2m0-1h2m0-1h2m0-1h2m0-1h5m0-1h8m0 1h5m0-1h2m0-1h2m0-1h2m0-1h2m0 1h3m0 1h2m0 1h3m0-1h3m0-1h2m0-1h3m0-1h3m0-1h2m0-1h2m0-1h2m0-1h2m0-1h1m0-1h2m0-1h3m0 1h4m0 1h3m0-1h3m0-1h2m0-1h3m0-1h3m0-1h2m0-1h2m0-1h1m0-1h1m0-1h1m0-1h1m0-1h1m0-1h1m0-1h1m0-1h1m0-1h1m0-1h1m0-1h2m0-1h1m0-1h1m0-1h1m0-1h1m0-1h1m0-1h1m0-1h2m0-1h1m0-1h1m0-1h1m0-1h1m0-1h2m0-1h2m0-1h1m0-1h2m0-1h3m0-1h4m0-1h6m0-1h4m0-1h1m0-1h1m0-1h2m0-1h1m0-1h1m0-1h1m0-1h3m0-1h4m0-1h6m0-1h8m0 1h6m0 1h4m0 1h2m0-1h2m0-1h1m0-1h1m0-1h2m0-1h1m0-1h1m0-1h2m0-1h1m0-1h1m0-1h2m0-1h1m0-1h2m0-1h3m0-1h2m0-1h2m0-1h1m0-1h1m0-1h1m0-1h1m0-1h1m0-1h1m0-1h1m0-1h1m0-1h2m0-1h1m0-1h1m0-1h2m0-1h1m0-1h2m0-1h2m0-1h2m0-1h2m0-1h1m0-1h1m0-1h1m0-1h1m0-2h1m-1 1h1m0-2h1m0-1h1m0-1h1m0-1h3m0-1h4m0-1h3m0-1h3m0-1h2m0-1h2m0-1h1m0-1h1m0-1h1m0-1h1m0-1h1m0-1h1m0-1h1m0-1h1m0-1h2m0-1h2m0-1h1m0-1h2m0-1h1m0-1h1m0-1h1m0-1h1m0-1h1m0-1h1m0-1h1m0-1h1m0-1h2m0-1h3m0-1h2m0-1h3m0-1h3m0-1h2m0-1h6m0 1h8m0-1h8m0-1h4m0-1h1m0-1h1m0-1h1m0-1h1m0-1h1m0-1h1m0-1h1m0-1h1m0-1h1m0-1h1m0-1h2m0-1h1m0-1h1m0-1h1m0-1h2m0-1h2m0-1h2m0-1h2m0-1h1m0-1h2m0-1h1m0-1h1m0-1h2m0-1h1m0-1h1m0-1h2m0-1h1m0-1h1m0-1h2m0-1h1m0-1h2m0-1h2m0-1h2m0-1h2m0-1h2m0-1h2m0-1h2m0-1h2m0-1h1m0-1h2m0-1h2m0-1h1m0-1h2m0-1h9m0-1h1m0-1h1m0-1h1m0-1h1m0-1h1m0-1h1m0-1h1m0-1h1m0-1h2m0-1h2m0-1h1m0-1h2m0-1h1m0-1h2m0-1h1m0-1h1m0-1h2m0-1h1m0-1h1m0-1h2m0-1h1m0-1h1m0-1h2m0-1h1m0-1h2m0-1h3m0-1h2m0-1h2m0-1h2m0-1h2m0-1h1m0-1h2m0-1h1m0-1h2m0-1h2m0-1h1m0-1h2m0-1h2m0-1h3m0-1h2m0-1h4m0-1h4m0-1h3m0-1h3m0-1h2m0-1h4m0-1h4m0-1h4m0-1h4m0-1h3m0-1h3m0-1h2m0-1h6m0-1h8m0 1h6m0 1h4m0 1h3m0 1h3m0 1h2m0 1h2m0-1h2m0-1h2m0-1h1m0-1h2m0-1h1m0-1h2m0-1h1m0-1h1m0-1h2m0-1h1m0-1h2m0-1h3m0-1h2m0-1h4m0-1h4m0-1h2m0-1h2m0-1h1m0-1h1m0-1h2m0-1h1m0-1h1m0-1h2m0-1h1m0-1h1m0-1h2m0-1h1m0-1h2m0-1h2m0-1h2m0-1h2m0-1h2m0-1h2m0-1h2m0-1h2m0-1h3m0-1h4m0-1h3m0-1h2m0-1h2m0-1h2m0-1h2m0-1h2m0-1h2m0-1h2m0-1h2m0-1h3m0-1h2m0-1h4m0-1h4m0-1h3m0-1h2m0-1h2m0-1h2m0-1h2m0-1h2m0-1h2m0-1h2m0-1h3m0-1h4m0-1h4m0-1h4m0-1h4m0-1h4m0-1h3m0-1h3m0-1h2m0-1h3m0-1h2m0-1h2m0-1h2m0-1h2m0-1h3m0-1h2m0-1h3m0-1h3m0-1h2m0-1h3m0-1h3m0-1h2m0-1h3m0-1h2m0-1h2m0-1h2m0-1h11m0 1h4m0 1h4m0 1h4m0 1h6m0-1h5m0-1h3m0-1h2m0-1h3m0-1h3m0-1h2m0-1h3m0-1h3m0-1h2m0-1h3m0-1h2m0-1h2m0-1h2m0-1h2m0-1h2m0-1h2m0-1h2m0-1h1m0-1h1m0-1h1m0-1h2m0-1h1m0-1h1m0-1h1m0-1h1m0-1h2m0-1h2m0-1h1m0-1h2m0-1h2m0-1h3m0-1h2m0-1h4m0-1h4m0-1h6m0-1h5m0-1h2m0-1h2m0-1h2m0-1h2m0-1h2m0-1h2m0-1h2m0-1h2m0 1h3m0 1h2m0 1h3m0-1h2m0-1h2m0-1h2m0-1h5m0-1h4m0-1h1m0-1h1m0-1h1m0-1h1m0-1h1m0-1h1m0-1h1m0-1h2m0-1h2m0-1h2m0-1h2m0-1h2m0-1h2m0-1h2m0-1h2m0-1h2m0-1h3m0-1h2m0-1h4m0-1h4m0-1h10m0 1h2m0 1h1m0 1h1m0 1h2m0 1h1m0 1h1m0-1h1m0-1h1m0-1h1m0-2h1m-1 1h1m0-2h1m0-1h1m0-1h1m0-1h1m0-1h2m0-1h2m0-1h1m0-1h2m0-1h5m0 1h6m0-1h4m0-1h14m0-1h8m0-1h6m0-1h4m0-1h2m0-1h2m0-1h2m0-1h1m0-1h2m0-1h2m0-1h2m0-1h2m0-1h2m0-1h10m0-1h3m0-1h2m0-1h3m0-1h2m0-1h2m0-1h2m0-1h1m0-1h2m0-1h1m0-1h1m0-1h2m0-1h1m0-1h1m0-1h2m0-1h2m0-1h1m0-1h2m0-1h2m0-1h3m0-1h2m0-1h2m0 1h2m0 1h1m0 1h1m0 1h2m0 1h1m0 1h2m0-1h2m0-1h2m0-1h2m0-1h2m0 1h3m0 1h2m0 1h2m0-1h1m0-1h1m0-1h2m0-1h1m0-1h1m0-1h1m0-1h1m0-1h2m0-1h1m0-1h1m0-1h2m0-1h1m0-1h2m0-1h3m0-1h2m0-1h3m0-1h3m0-1h2m0-1h2m0-1h2m0-1h1m0-1h1m0-1h2m0-1h1m0-1h2m0-1h2m0-1h2m0-1h2m0-1h5m0-1h6m0-1h4m0-1h4m0-1h4m0-1h3m0-1h3m0-1h2m0-1h10m0 1h1m0 1h1m0 1h1m0 1h1m-1 1h1m0 1h1m0 1h1m0 1h1m0 1h2m0-1h3m0-1h2m0-1h6m0-1h5m0-1h3m0-1h2m0-1h2m0-1h1m0-1h1m0-1h2m0-1h1m0-1h1m0-1h1m0-1h1m0-1h2m0-1h2m0-1h1m0-1h2m0-1h2m0-1h3m0-1h2m0-1h4m0-1h4m0-1h2m0-1h2m0-1h2m0-1h1m0-1h2m0-1h2m0-1h3m0-1h2m0-1h3m0-1h3m0-1h2m0-1h6m0-1h5m0-1h3m0-1h2m0-1h4m0-1h4m0-1h3m0-1h2m0-1h2m0-1h2m0-1h2m0-1h3m0-1h2m0-1h3m0-1h3m0-1h2m0-1h6m0-1h4m0-1h2m0-1h2m0-1h1m0-1h2m0-1h2m0-1h3m0-1h2m0-1h3m0-1h3m0-1h2m0-1h2m0-1h2m0-1h1m0-1h1m0-1h2m0-1h1m0-1h2m0-1h3m0-1h2m0-1h4m0-1h4m0-1h4m0-1h4m0-1h6m0-1h8m0-1h5m0-1h2m0-1h2m0-1h2m0-1h1m0-1h2m0-1h2m0-1h1m0-1h2m0-1h2m0-1h3m0-1h2m0-1h4m0-1h4m0-1h2m0-1h2m0-1h2m0-1h1m0-1h2"/>
<path stroke="#f00" d="M5 798.5h3m0-1h4m0-1h4m0 1h4m0 1h4m0-1h4m0-1h6m0-1h8m0 1h6m0-1h4m0-1h6m0-1h5m0-1h2m0-1h2m0-1h2m0-1h2m0-1h3m0-1h2m0-1h3m0-1h3m0-1h2m0-1h3m0-1h2m0-1h2m0-1h2m0-1h1m0 1h2m0 1h2m0 1h1m0 1h2m0 1h5m0 1h4m0-1h1m0-1h1m0-1h1m0-1h1m0-1h1m0-1h1m0-1h1m0-1h1m0-1h1m0-1h1m0-1h1m0-1h1m0-1h1m0-1h1m0-1h1m0-1h1m0-1h2m0-1h1m0-1h1m0-1h2m0-1h1m0-1h2m0-1h2m0-1h2m0-1h2m0-1h1m0-1h1m0-1h1m0-1h2m0-1h1m0-1h1m0-1h1m0-1h1m0-1h2m0-1h1m0-1h1m0-1h2m0-1h1m0-1h1m0-1h2m0-1h2m0-1h1m0-1h2m0-1h2m0-1h2m0-1h2m0-1h2m0-1h5m0-1h5m0-1h2m0-1h2m0-1h2m0-1h2m0-1h2m0-1h2m0-1h2m0-1h1m0-1h2m0-1h1m0-1h1m0-1h2m0-1h1m0-1h2m0-1h2m0-1h2m0-1h2m0-1h3m0-1h4m0-1h2m0-1h2m0-1h1m0-1h1m0-1h2m0-1h1m0-1h1m0-1h2m0-1h1m0-1h1m0-1h2m0-1h1m0-1h2m0-1h3m0-1h2m0-1h6m0-1h8m0 1h5m0-1h2m0-1h2m0-1h2m0-1h2m0 1h3m0 1h2m0 1h3m0-1h3m0-1h2m0-1h3m0-1h3m0-1h2m0-1h2m0-1h2m0-1h2m0-1h1m0-1h2m0-1h3m0 1h4m0 1h3m0-1h3m0-1h2m0-1h3m0-1h3m0-1h2m0-1h2m0-1h1m0-1h1m0-1h1m0-1h1m0-1h1m0-1h1m0-1h1m0-1h1m0-1h1m0-1h1m0-1h2m0-1h1m0-1h1m0-1h1m0-1h1m0-1h1m0-1h1m0-1h2m0-1h1m0-1h1m0-1h1m0-1h2m0-1h2m0-1h2m0-1h2m0-1h2m0-1h3m0-1h2m0-1h6m0-1h4m0-1h1m0-1h1m0-1h2m0-1h1m0-1h1m0-1h1m0-1h3m0-1h4m0-1h6m0-1h8m0 1h6m0 1h4m0 1h2m0-1h2m0-1h1m0-1h1m0-1h2m0-1h1m0-1h1m0-1h2m0-1h1m0-1h1m0-1h2m0-1h1m0-1h3m0-1h4m0-1h2m0-1h1m0-1h1m0-1h1m0-1h1m0-1h1m0-1h1m0-1h1m0-1h1m0-1h1m0-1h1m0-1h2m0-1h1m0-1h1m0-1h1m0-1h2m0-1h2m0-1h2m0-1h2m0-1h1m0-1h1m0-1h1m0-1h1m0-1h1m0-1h1m0-1h1m0-1h1m0-1h3m0-1h4m0-1h3m0-1h3m0-1h2m0-1h2m0-1h1m0-1h1m0-1h1m0-1h1m0-1h1m0-1h1m0-1h1m0-1h1m0-1h2m0-1h2m0-1h1m0-1h2m0-1h1m0-1h1m0-1h1m0-1h2m0-1h1m0-1h1m0-1h1m0-1h2m0-1h2m0-1h2m0-1h2m0-1h3m0-1h4m0-1h6m0 1h6m0-1h4m0-1h6m0-1h4m0-1h1m0-1h1m0-1h2m0-1h1m0-1h1m0-1h1m0-1h1m0-1h1m0-1h1m0-1h1m0-1h1m0-1h1m0-1h1m0-1h1m0-1h2m0-1h2m0-1h2m0-1h2m0-1h1m0-1h2m0-1h2m0-1h1m0-1h2m0-1h1m0-1h1m0-1h1m0-1h2m0-1h1m0-1h1m0-1h1m0-1h2m0-1h3m0-1h2m0-1h3m0-1h2m0-1h2m0-1h2m0-1h1m0-1h2m0-1h2m0-1h1m0-1h2m0-1h5m0 1h4m0-1h1m0-1h1m0-1h1m0-2h1m-1 1h1m0-2h1m0-1h1m0-1h1m0-1h1m0-1h2m0-1h2m0-1h1m0-1h2m0-1h1m0-1h2m0-1h2m0-1h1m0-1h2m0-1h1m0-1h2m0-1h1m0-1h1m0-1h2m0-1h1m0-1h2m0-1h2m0-1h2m0-1h2m0-1h1m0-1h2m0-1h2m0-1h1m0-1h2m0-1h2m0-1h2m0-1h2m0-1h2m0-1h2m0-1h3m0-1h2m0-1h3m0-1h3m0-1h2m0-1h3m0-1h3m0-1h2m0-1h6m0-1h6m0-1h4m0-1h3m0-1h3m0-1h2m0-1h6m0-1h8m0 1h8m0 1h5m0 1h2m0 1h2m0 1h2m0 1h1m0-1h2m0-1h2m0-1h1m0-1h2m0-1h1m0-1h2m0-1h1m0-1h1m0-1h2m0-1h1m0-1h2m0-1h3m0-1h2m0-1h4m0-1h4m0-1h2m0-1h2m0-1h1m0-1h1m0-1h2m0-1h1m0-1h1m0-1h2m0-1h2m0-1h1m0-1h2m0-1h1m0-1h2m0-1h2m0-1h1m0-1h2m0-1h2m0-1h2m0-1h2m0-1h2m0-1h3m0-1h4m0-1h3m0-1h2m0-1h2m0-1h2m0-1h2m0-1h2m0-1h2m0-1h2m0-1h2m0-1h3m0-1h2m0-1h6m0-1h4m0-1h2m0-1h2m0-1h1m0-1h2m0-1h2m0-1h3m0-1h2m0-1h3m0-1h3m0-1h2m0-1h6m0-1h6m0-1h4m0-1h3m0-1h3m0-1h2m0-1h2m0-1h2m0-1h2m0-1h1m0-1h2m0-1h2m0-1h3m0-1h2m0-1h4m0-1h4m0-1h3m0-1h3m0-1h2m0-1h3m0-1h2m0-1h2m0-1h2m0-1h11m0 1h4m0 1h4m0 1h4m0 1h6m0-1h5m0-1h3m0-1h2m0-1h4m0-1h4m0-1h3m0-1h3m0-1h2m0-1h2m0-1h2m0-1h2m0-1h1m0-1h2m0-1h2m0-1h2m0-1h2m0-1h2m0-1h1m0-1h2m0-1h1m0-1h1m0-1h2m0-1h1m0-1h1m0-1h2m0-1h1m0-1h1m0-1h2m0-1h1m0-1h2m0-1h3m0-1h2m0-1h6m0-1h6m0-1h4m0-1h3m0-1h2m0-1h2m0-1h2m0-1h2m0-1h2m0-1h2m0-1h2m0-1h2m0 1h2m0 1h2m0 1h2m0 1h2m0-1h2m0-1h2m0-1h2m0-1h3m0-1h4m0-1h2m0-1h1m0-1h1m0-1h2m0-1h1m0-1h1m0-1h1m0-1h2m0-1h2m0-1h2m0-1h2m0-1h2m0-1h2m0-1h2m0-1h2m0-1h2m0-1h3m0-1h2m0-1h4m0-1h4m0-1h10m0 1h2m0 1h1m0 1h1m0 1h2m0 1h1m0 1h1m0-1h1m0-1h1m0-1h1m0-2h1m-1 1h1m0-2h1m0-1h1m0-1h1m0-1h1m0-1h2m0-1h2m0-1h1m0-1h2m0-1h5m0 1h6m0-1h4m0-1h14m0-1h8m0-1h6m0-1h4m0-1h2m0-1h2m0-1h2m0-1h1m0-1h2m0-1h2m0-1h2m0-1h2m0-1h2m0-1h10m0-1h3m0-1h2m0-1h3m0-1h3m0-1h2m0-1h2m0-1h1m0-1h1m0-1h2m0-1h1m0-1h1m0-1h1m0-1h2m0-1h2m0-1h2m0-1h2m0-1h2m0-1h3m0-1h2m0-1h2m0 1h2m0 1h1m0 1h1m0 1h2m0 1h1m0 1h2m0-1h2m0-1h2m0-1h2m0-1h2m0 1h3m0 1h2m0 1h2m0-1h1m0-1h1m0-1h2m0-1h1m0-1h1m0-1h1m0-1h1m0-1h2m0-1h1m0-1h1m0-1h2m0-1h1m0-1h2m0-1h2m0-1h2m0-1h2m0-1h2m0-1h3m0-1h2m0-1h2m0-1h2m0-1h2m0-1h1m0-1h2m0-1h2m0-1h2m0-1h2m0-1h2m0-1h5m0-1h6m0-1h4m0-1h4m0-1h4m0-1h4m0-1h4m0-1h10m0 1h1m0 1h1m0 1h1m0 1h1m0 1h1m0 1h1m0 1h1m0 1h2m0-1h3m0-1h2m0-1h6m0-1h5m0-1h3m0-1h2m0-1h2m0-1h1m0-1h1m0-1h2m0-1h1m0-1h1m0-1h1m0-1h2m0-1h2m0-1h2m0-1h2m0-1h2m0-1h3m0-1h2m0-1h3m0-1h3m0-1h2m0-1h3m0-1h2m0-1h2m0-1h2m0-1h2m0-1h2m0-1h2m0-1h2m0-1h3m0-1h4m0-1h4m0-1h4m0-1h4m0-1h4m0-1h3m0-1h3m0-1h2m0-1h3m0-1h3m0-1h2m0-1h3m0-1h2m0-1h2m0-1h2m0-1h3m0-1h4m0-1h6m0-1h4m0-1h2m0-1h1m0-1h1m0-1h2m0-1h1m0-1h2m0-1h3m0-1h2m0-1h4m0-1h4m0-1h2m0-1h2m0-1h1m0-1h1m0-1h2m0-1h1m0-1h2m0-1h3m0-1h2m0-1h4m0-1h4m0-1h4m0-1h4m0-1h6m0-1h8m0-1h5m0-1h2m0-1h2m0-1h2m0-1h1m0-1h2m0-1h2m0-1h1m0-1h2m0-1h2m0-1h3m0-1h2m0-1h4m0-1h4m0-1h2m0-1h2m0-1h2m0-1h1m0-1h2"/>
<path stroke="#00f" d="M5 831.5h3m0-1h4m0-1h3m0 1h3m0 1h2m0 1h4m0-1h4m0-1h4m0-1h4m0-1h6m0 1h6m0-1h4m0-1h10m0-1h2m0-1h2m0-1h1m0-1h2m0-1h3m0-1h4m0-1h3m0-1h3m0-1h2m0-1h3m0-1h2m0-1h2m0-1h2m0-1h2m0 1h2m0 1h2m0 1h2m0 1h3m0 1h4m0 1h2m0-1h1m0-1h1m0-1h1m0-1h1m0-1h1m0-1h1m0-1h1m0-1h1m0-1h1m0-1h1m0-1h1m0-1h1m0-1h1m0-1h1m0-1h1m0-1h1m0-1h2m0-1h1m0-1h1m0-1h2m0-1h1m0-1h2m0-1h2m0-1h2m0-1h2m0-1h1m0-1h1m0-1h1m0-1h2m0-1h1m0-1h1m0-1h1m0-1h1m0-1h2m0-1h1m0-1h1m0-1h2m0-1h1m0-1h1m0-1h2m0-1h2m0-1h1m0-1h2m0-1h2m0-1h2m0-1h2m0-1h2m0-1h5m0-1h5m0-1h2m0-1h2m0-1h2m0-1h2m0-1h2m0-1h2m0-1h2m0-1h1m0-1h2m0-1h1m0-1h1m0-1h2m0-1h1m0-1h2m0-1h2m0-1h2m0-1h2m0-1h3m0-1h4m0-1h2m0-1h2m0-1h2m0-1h1m0-1h2m0-1h1m0-1h2m0-1h1m0-1h1m0-1h2m0-1h1m0-1h2m0-1h2m0-1h2m0-1h2m0-1h5m0-1h8m0 1h5m0-1h2m0-1h2m0-1h2m0-1h2m0 1h3m0 1h2m0 1h3m0-1h3m0-1h2m0-1h3m0-1h3m0-1h2m0-1h2m0-1h2m0-1h2m0-1h1m0-1h2m0-1h3m0 1h4m0 1h3m0-1h3m0-1h2m0-1h4m0-1h4m0-1h2m0-1h1m0-1h1m0-1h1m0-2h1m-1 1h1m0-2h1m0-1h1m0-1h1m0-1h1m0-1h2m0-1h1m0-1h1m0-1h2m0-1h1m0-1h1m0-1h1m0-1h1m0-1h2m0-1h1m0-1h1m0-1h1m0-1h1m0-1h2m0-1h2m0-1h1m0-1h2m0-1h3m0-1h4m0-1h4m0-1h4m0-1h2m0-1h2m0-1h1m0-1h1m0-1h2m0-1h1m0-1h3m0-1h4m0-1h6m0-1h8m0 1h6m0 1h4m0 1h2m0-1h2m0-1h1m0-1h1m0-1h2m0-1h1m0-1h1m0-1h2m0-1h1m0-1h1m0-1h2m0-1h1m0-1h3m0-1h4m0-1h2m0-1h1m0-1h1m0-1h1m0-1h1m0-1h1m0-1h1m0-1h1m0-1h1m0-1h1m0-1h1m0-1h2m0-1h1m0-1h1m0-1h1m0-1h2m0-1h2m0-1h2m0-1h2m0-1h1m0-1h1m0-1h1m0-1h1m0-1h1m0-1h1m0-1h1m0-1h1m0-1h3m0-1h4m0-1h3m0-1h3m0-1h2m0-1h2m0-1h1m0-1h1m0-1h1m0-1h1m0-1h1m0-1h1m0-1h1m0-1h1m0-1h2m0-1h2m0-1h1m0-1h2m0-1h1m0-1h1m0-1h1m0-1h2m0-1h1m0-1h1m0-1h1m0-1h2m0-1h2m0-1h2m0-1h2m0-1h3m0-1h4m0-1h6m0 1h6m0-1h4m0-1h10m0-1h1m0-1h1m0-1h1m0-1h1m0-1h1m0-1h1m0-1h1m0-1h1m0-1h1m0-1h1m0-1h2m0-1h1m0-1h1m0-1h1m0-1h2m0-1h2m0-1h2m0-1h2m0-1h1m0-1h2m0-1h2m0-1h1m0-1h2m0-1h1m0-1h1m0-1h1m0-1h2m0-1h1m0-1h1m0-1h1m0-1h2m0-1h3m0-1h2m0-1h3m0-1h2m0-1h2m0-1h2m0-1h1m0-1h2m0-1h1m0-1h1m0-1h2m0-1h1m0-1h5m0 1h4m0-1h1m0-1h1m0-1h1m0-1h1m0-1h1m0-1h1m0-1h1m0-1h1m0-1h2m0-1h1m0-1h1m0-1h2m0-1h1m0-1h1m0-1h2m0-1h2m0-1h1m0-1h2m0-1h1m0-1h2m0-1h2m0-1h1m0-1h2m0-1h2m0-1h2m0-1h2m0-1h2m0-1h1m0-1h2m0-1h2m0-1h1m0-1h2m0-1h2m0-1h2m0-1h2m0-1h2m0-1h2m0-1h3m0-1h2m0-1h3m0-1h3m0-1h2m0-1h3m0-1h3m0-1h2m0-1h6m0-1h5m0-1h3m0-1h2m0-1h4m0-1h4m0-1h6m0-1h8m0 1h8m0 1h5m0 1h2m0 1h2m0 1h2m0 1h1m0-1h2m0-1h2m0-1h1m0-1h2m0-1h1m0-1h2m0-1h1m0-1h1m0-1h2m0-1h1m0-1h2m0-1h3m0-1h2m0-1h4m0-1h4m0-1h2m0-1h2m0-1h2m0-1h1m0-1h2m0-1h1m0-1h2m0-1h1m0-1h1m0-1h2m0-1h1m0-1h1m0-1h2m0-1h2m0-1h1m0-1h2m0-1h2m0-1h2m0-1h2m0-1h2m0-1h5m0-1h4m0-1h2m0-1h2m0-1h1m0-1h2m0-1h2m0-1h3m0-1h2m0-1h3m0-1h3m0-1h2m0-1h4m0-1h4m0-1h3m0-1h2m0-1h2m0-1h2m0-1h2m0-1h2m0-1h2m0-1h2m0-1h3m0-1h4m0-1h4m0-1h4m0-1h4m0-1h4m0-1h3m0-1h3m0-1h2m0-1h3m0-1h2m0-1h2m0-1h2m0-1h2m0-1h3m0-1h2m0-1h4m0-1h4m0-1h3m0-1h3m0-1h2m0-1h3m0-1h2m0-1h2m0-1h2m0-1h11m0 1h4m0 1h4m0 1h4m0 1h4m0-1h4m0-1h3m0-1h3m0-1h2m0-1h4m0-1h4m0-1h3m0-1h3m0-1h2m0-1h3m0-1h2m0-1h2m0-1h2m0-1h2m0-1h2m0-1h2m0-1h2m0-1h1m0-1h1m0-1h1m0-1h2m0-1h1m0-1h1m0-1h1m0-1h1m0-1h2m0-1h2m0-1h1m0-1h2m0-1h2m0-1h3m0-1h2m0-1h6m0-1h6m0-1h4m0-1h3m0-1h2m0-1h2m0-1h2m0-1h2m0-1h2m0-1h2m0-1h2m0-1h2m0 1h3m0 1h2m0 1h3m0-1h2m0-1h2m0-1h2m0-1h5m0-1h4m0-1h1m0-1h1m0-1h2m0-1h1m0-1h1m0-1h1m0-1h2m0-1h2m0-1h2m0-1h2m0-1h2m0-1h2m0-1h2m0-1h2m0-1h2m0-1h3m0-1h2m0-1h4m0-1h4m0-1h10m0 1h2m0 1h1m0 1h1m0 1h2m0 1h1m0 1h1m0-1h1m0-1h1m0-1h1m0-2h1m-1 1h1m0-2h1m0-1h1m0-1h1m0-1h1m0-1h2m0-1h2m0-1h1m0-1h2m0-1h5m0 1h8m0-1h8m0-1h8m0-1h8m0-1h6m0-1h4m0-1h2m0-1h2m0-1h2m0-1h1m0-1h2m0-1h2m0-1h3m0-1h2m0-1h11m0-1h2m0-1h2m0-1h2m0-1h2m0-1h3m0-1h2m0-1h2m0-1h2m0-1h1m0-1h1m0-1h2m0-1h1m0-1h1m0-1h2m0-1h2m0-1h1m0-1h2m0-1h2m0-1h3m0-1h2m0-1h2m0 1h2m0 1h1m0 1h1m0 1h2m0 1h1m0 1h2m0-1h2m0-1h2m0-1h2m0-1h2m0 1h3m0 1h2m0 1h2m0-1h1m0-1h1m0-1h2m0-1h1m0-1h1m0-1h1m0-1h1m0-1h2m0-1h2m0-1h1m0-1h2m0-1h2m0-1h2m0-1h2m0-1h2m0-1h2m0-1h3m0-1h2m0-1h2m0-1h2m0-1h1m0-1h1m0-1h2m0-1h1m0-1h2m0-1h3m0-1h2m0-1h4m0-1h4m0-1h4m0-1h4m0-1h6m0-1h5m0-1h3m0-1h2m0-1h10m0 1h1m0 1h1m0 1h1m0 1h1m0 1h1m0 1h1m0 1h1m0 1h2m0-1h3m0-1h2m0-1h11m0-1h2m0-1h2m0-1h2m0-1h1m0-1h1m0-1h1m0-1h2m0-1h1m0-1h1m0-1h1m0-1h2m0-1h2m0-1h2m0-1h2m0-1h2m0-1h3m0-1h2m0-1h4m0-1h4m0-1h3m0-1h2m0-1h2m0-1h2m0-1h2m0-1h2m0-1h2m0-1h2m0-1h3m0-1h4m0-1h4m0-1h4m0-1h4m0-1h4m0-1h3m0-1h3m0-1h2m0-1h3m0-1h3m0-1h2m0-1h3m0-1h2m0-1h2m0-1h2m0-1h2m0-1h3m0-1h2m0-1h10m0-1h2m0-1h1m0-1h1m0-1h2m0-1h1m0-1h2m0-1h3m0-1h2m0-1h3m0-1h3m0-1h2m0-1h2m0-1h2m0-1h2m0-1h1m0-1h2m0-1h2m0-1h3m0-1h2m0-1h4m0-1h4m0-1h4m0-1h4m0-1h6m0-1h8m0-1h5m0-1h2m0-1h2m0-1h2m0-1h2m0-1h2m0-1h2m0-1h2m0-1h2m0-1h2m0-1h2m0-1h2m0-1h3m0-1h4m0-1h2m0-1h2m0-1h2m0-1h1m0-1h2"/>
</g>
</svg>
<div id="tbl"></div>
<svg width="1920" height="919" viewBox="0 0 1920 919">
<rect x="5" y="127" width="1862" height="1" fill="#c0c0c0" shape-rendering="crispEdges"/>
<g fill="#000" shape-rendering="crispEdges"><rect x="1661" y="126" width="1" height="5"/><rect x="1659" y="127" width="5" height="3"/><rect x="1660" y="128" width="3" height="1" fill="#fff"/></g>
<g fill="#000" shape-rendering="crispEdges"><rect x="557" y="102" width="1" height="78"/><rect x="669" y="103" width="1" height="75"/><rect x="741" y="100" width="1" height="78"/><rect x="805" y="99" width="1" height="81"/><rect x="885" y="101" width="1" height="81"/><rect x="965" y="100" width="1" height="81"/><rect x="1045" y="101" width="1" height="77"/><rect x="1125" y="100" width="1" height="81"/><rect x="1205" y="103" width="1" height="74"/><rect x="557" y="138" width="649" height="1"/></g>
<g fill="none" stroke="#000" stroke-width="1" shape-rendering="crispEdges">
<rect x="4.5" y="4.5" width="1863" height="892"/>
</g>
<g fill="#000" shape-rendering="crispEdges"><rect x="1868" y="35" width="2" height="1"/><rect x="1868" y="68" width="2" height="1"/><rect x="1868" y="101" width="2" height="1"/><rect x="1868" y="134" width="2" height="1"/><rect x="1868" y="167" width="2" height="1"/><rect x="1868" y="200" width="2" height="1"/><rect x="1868" y="233" width="2" height="1"/><rect x="1868" y="266" width="2" height="1"/><rect x="1868" y="299" width="2" height="1"/><rect x="1868" y="332" width="2" height="1"/><rect x="1868" y="365" width="2" height="1"/><rect x="1868" y="398" width="2" height="1"/><rect x="1868" y="431" width="2" height="1"/><rect x="1868" y="464" width="2" height="1"/><rect x="1868" y="497" width="2" height="1"/><rect x="1868" y="530" width="2" height="1"/><rect x="1868" y="563" width="2" height="1"/><rect x="1868" y="596" width="2" height="1"/><rect x="1868" y="629" width="2" height="1"/><rect x="1868" y="662" width="2" height="1"/><rect x="1868" y="695" width="2" height="1"/><rect x="1868" y="728" width="2" height="1"/><rect x="1868" y="761" width="2" height="1"/><rect x="1868" y="794" width="2" height="1"/><rect x="1868" y="827" width="2" height="1"/><rect x="1868" y="860" width="2" height="1"/><rect x="1868" y="893" width="2" height="1"/><rect x="5" y="897" width="1" height="3"/><rect x="69" y="897" width="1" height="3"/><rect x="133" y="897" width="1" height="3"/><rect x="197" y="897" width="1" height="3"/><rect x="261" y="897" width="1" height="3"/><rect x="325" y="897" width="1" height="3"/><rect x="389" y="897" width="1" height="3"/><rect x="453" y="897" width="1" height="3"/><rect x="517" y="897" width="1" height="3"/><rect x="581" y="897" width="1" height="3"/><rect x="645" y="897" width="1" height="3"/><rect x="709" y="897" width="1" height="3"/><rect x="773" y="897" width="1" height="3"/><rect x="837" y="897" width="1" height="3"/><rect x="901" y="897" width="1" height="3"/><rect x="965" y="897" width="1" height="3"/><rect x="1029" y="897" width="1" height="3"/><rect x="1093" y="897" width="1" height="3"/><rect x="1157" y="897" width="1" height="3"/><rect x="1221" y="897" width="1" height="3"/><rect x="1285" y="897" width="1" height="3"/><rect x="1349" y="897" width="1" height="3"/><rect x="1413" y="897" width="1" height="3"/><rect x="1477" y="897" width="1" height="3"/><rect x="1541" y="897" width="1" height="3"/><rect x="1605" y="897" width="1" height="3"/></g>
<g fill="#000" shape-rendering="crispEdges"><rect x="1654" y="25" width="10" height="1"/><rect x="1654" y="62" width="10" height="1"/><rect x="1654" y="101" width="10" height="1"/><rect x="1654" y="177" width="10" height="1"/><rect x="1654" y="209" width="10" height="1"/><rect x="1613" y="147" width="56" height="1" fill="#00f"/><rect x="1669" y="147" width="3" height="1"/></g>
<polygon points="7.6,11 15.4,11 11.5,15.4" fill="#000"/>
</svg>
<div class="t ttl" id="ttl1" style="left:19.7px;top:6.79px;transform:scaleX(0.9421)">USDTRY,Daily</div>
<div class="t ttl" id="ttl2" style="left:88.5px;top:6.79px;transform:scaleX(0.8889)">43.24930 43.27510 43.24136 43.26940</div>
<div class="t tb" style="left:591.00px;top:109.81px;font-size:17.5px;transform-origin:0 15.6px;transform:rotate(0deg) scaleX(1.1217);">Tarih</div>
<div class="t tb" style="left:685.50px;top:111.30px;font-size:16.5px;transform-origin:0 14.7px;transform:rotate(0deg) scaleX(1.4212);">2020</div>
<div class="t tb" style="left:752.00px;top:113.30px;font-size:16.5px;transform-origin:0 14.7px;transform:rotate(0deg) scaleX(1.3182);">2021</div>
<div class="t tb" style="left:815.00px;top:112.80px;font-size:16.5px;transform-origin:0 14.7px;transform:rotate(0deg) scaleX(1.3818);">2022</div>
<div class="t tb" style="left:895.00px;top:110.30px;font-size:16.5px;transform-origin:0 14.7px;transform:rotate(3deg) scaleX(1.3788);">2023</div>
<div class="t tb" style="left:974.00px;top:111.80px;font-size:16.5px;transform-origin:0 14.7px;transform:rotate(0deg) scaleX(1.4000);">2024</div>
<div class="t tb" style="left:1054.50px;top:113.80px;font-size:16.5px;transform-origin:0 14.7px;transform:rotate(2deg) scaleX(1.4000);">2025</div>
<div class="t tb" style="left:1134.30px;top:111.30px;font-size:16.5px;transform-origin:0 14.7px;transform:rotate(-1deg) scaleX(1.4061);">2026</div>
<div class="t tb" style="left:563.30px;top:146.56px;font-size:18px;transform-origin:0 16.0px;transform:rotate(0deg) scaleX(1.0919);">Açılış Fiyatı</div>
<div class="t tb" style="left:679.80px;top:147.46px;font-size:18px;transform-origin:0 16.0px;transform:rotate(-3deg) scaleX(1.1354);">5,9428</div>
<div class="t tb" style="left:746.60px;top:145.46px;font-size:18px;transform-origin:0 16.0px;transform:rotate(-2deg) scaleX(1.0909);">7,4190</div>
<div class="t tb" style="left:813.00px;top:146.46px;font-size:18px;transform-origin:0 16.0px;transform:rotate(1deg) scaleX(1.1009);">13,4553</div>
<div class="t tb" style="left:895.00px;top:147.96px;font-size:18px;transform-origin:0 16.0px;transform:rotate(2deg) scaleX(1.0598);">18,6725</div>
<div class="t tb" style="left:971.70px;top:147.96px;font-size:18px;transform-origin:0 16.0px;transform:rotate(1deg) scaleX(1.1419);">29,4425</div>
<div class="t tb" style="left:1053.00px;top:148.96px;font-size:18px;transform-origin:0 16.0px;transform:rotate(-3deg) scaleX(1.1043);">35,3662</div>
<div class="t tb" style="left:1131.60px;top:148.96px;font-size:18px;transform-origin:0 16.0px;transform:rotate(-3deg) scaleX(1.1402);">42.9360</div>
<div class="t ann" id="ann1" style="left:705.4px;top:567.98px;color:#00f;letter-spacing:0.365px">5 günlük ortalamayla hesaplanan Envelope göstergeleri</div>
<div class="t ann" id="ann2" style="left:607.6px;top:614.5px;color:#f0f;letter-spacing:0.509px">55 günlük üstel hareketli ortalama</div>
<div class="pb" style="left:1664px;top:16px">44.13000</div>
<div class="pb" style="left:1664px;top:53px">43.82000</div>
<div class="pb" style="left:1664px;top:92px">43.49000</div>
<div class="pb" style="left:1672px;top:138px">43.10000</div>
<div class="pb" style="left:1664px;top:168px">42.84000</div>
<div class="pb" style="left:1664px;top:200px">42.57000</div>
<div class="t ax" style="left:1873.00px;top:30.09px;">44.04130</div>
<div class="t ax" style="left:1873.00px;top:63.09px;">43.76410</div>
<div class="t ax" style="left:1873.00px;top:96.09px;">43.48690</div>
<div class="t ax" style="left:1873.00px;top:129.09px;">43.20970</div>
<div class="t ax" style="left:1873.00px;top:162.09px;">42.92410</div>
<div class="t ax" style="left:1873.00px;top:195.09px;">42.64690</div>
<div class="t ax" style="left:1873.00px;top:228.09px;">42.36970</div>
<div class="t ax" style="left:1873.00px;top:261.09px;">42.09250</div>
<div class="t ax" style="left:1873.00px;top:294.09px;">41.81530</div>
<div class="t ax" style="left:1873.00px;top:327.09px;">41.52970</div>
<div class="t ax" style="left:1873.00px;top:360.09px;">41.25250</div>
<div class="t ax" style="left:1873.00px;top:393.09px;">40.97530</div>
<div class="t ax" style="left:1873.00px;top:426.09px;">40.69810</div>
<div class="t ax" style="left:1873.00px;top:459.09px;">40.41250</div>
<div class="t ax" style="left:1873.00px;top:492.09px;">40.13530</div>
<div class="t ax" style="left:1873.00px;top:525.09px;">39.85810</div>
<div class="t ax" style="left:1873.00px;top:558.09px;">39.58090</div>
<div class="t ax" style="left:1873.00px;top:591.09px;">39.30370</div>
<div class="t ax" style="left:1873.00px;top:624.09px;">39.01810</div>
<div class="t ax" style="left:1873.00px;top:657.09px;">38.74090</div>
<div class="t ax" style="left:1873.00px;top:690.09px;">38.46370</div>
<div class="t ax" style="left:1873.00px;top:723.09px;">38.18650</div>
<div class="t ax" style="left:1873.00px;top:756.09px;">37.90090</div>
<div class="t ax" style="left:1873.00px;top:789.09px;">37.62370</div>
<div class="t ax" style="left:1873.00px;top:822.09px;">37.34650</div>
<div class="t ax" style="left:1873.00px;top:855.09px;">37.06930</div>
<div class="t ax" style="left:1873.00px;top:888.09px;">36.79210</div>
<div class="t ax axd" style="left:3.70px;top:900.29px;">31 Mar 2025</div>
<div class="t ax axd" style="left:67.70px;top:900.29px;">10 Apr 2025</div>
<div class="t ax axd" style="left:131.70px;top:900.29px;">22 Apr 2025</div>
<div class="t ax axd" style="left:195.70px;top:900.29px;">2 May 2025</div>
<div class="t ax axd" style="left:259.70px;top:900.29px;">14 May 2025</div>
<div class="t ax axd" style="left:323.70px;top:900.29px;">26 May 2025</div>
<div class="t ax axd" style="left:387.70px;top:900.29px;">5 Jun 2025</div>
<div class="t ax axd" style="left:451.70px;top:900.29px;">17 Jun 2025</div>
<div class="t ax axd" style="left:515.70px;top:900.29px;">27 Jun 2025</div>
<div class="t ax axd" style="left:579.70px;top:900.29px;">9 Jul 2025</div>
<div class="t ax axd" style="left:643.70px;top:900.29px;">21 Jul 2025</div>
<div class="t ax axd" style="left:707.70px;top:900.29px;">31 Jul 2025</div>
<div class="t ax axd" style="left:771.70px;top:900.29px;">12 Aug 2025</div>
<div class="t ax axd" style="left:835.70px;top:900.29px;">22 Aug 2025</div>
<div class="t ax axd" style="left:899.70px;top:900.29px;">3 Sep 2025</div>
<div class="t ax axd" style="left:963.70px;top:900.29px;">15 Sep 2025</div>
<div class="t ax axd" style="left:1027.70px;top:900.29px;">25 Sep 2025</div>
<div class="t ax axd" style="left:1091.70px;top:900.29px;">7 Oct 2025</div>
<div class="t ax axd" style="left:1155.70px;top:900.29px;">17 Oct 2025</div>
<div class="t ax axd" style="left:1219.70px;top:900.29px;">29 Oct 2025</div>
<div class="t ax axd" style="left:1283.70px;top:900.29px;">10 Nov 2025</div>
<div class="t ax axd" style="left:1347.70px;top:900.29px;">20 Nov 2025</div>
<div class="t ax axd" style="left:1411.70px;top:900.29px;">2 Dec 2025</div>
<div class="t ax axd" style="left:1475.70px;top:900.29px;">12 Dec 2025</div>
<div class="t ax axd" style="left:1539.70px;top:900.29px;">24 Dec 2025</div>
<div class="t ax axd" style="left:1603.70px;top:900.29px;">7 Jan 2026</div>
<div class="cur"><span>43.26940</span></div>
</body>
</html>
